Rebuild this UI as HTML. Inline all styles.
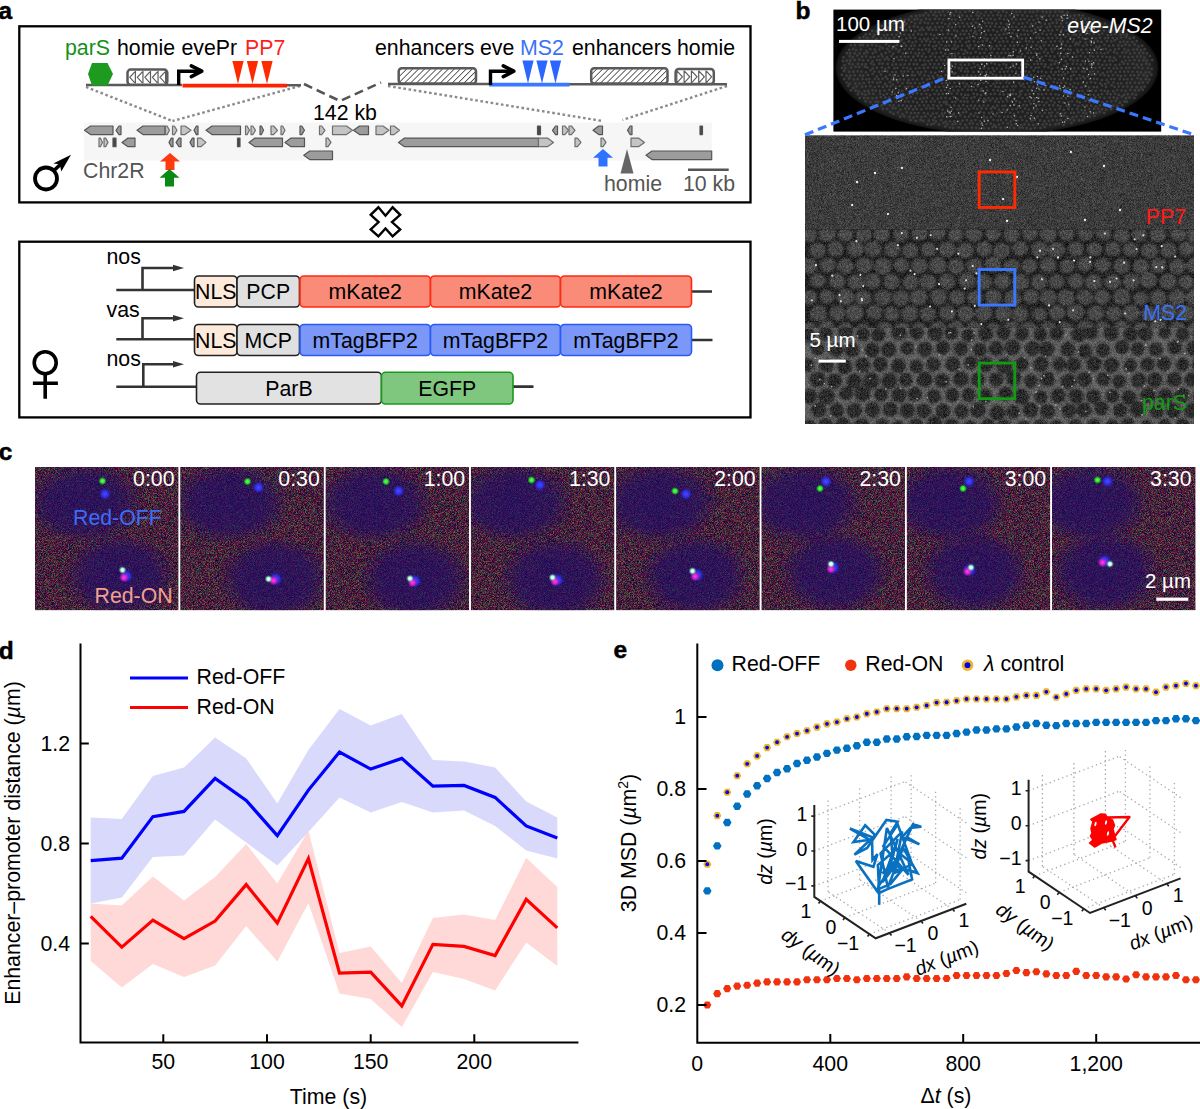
<!DOCTYPE html>
<html><head><meta charset="utf-8"><title>Figure</title>
<style>html,body{margin:0;padding:0;background:#fff;} svg{display:block;font-family:"Liberation Sans",sans-serif;}</style>
</head><body>
<svg width="1200" height="1109" viewBox="0 0 1200 1109">
<rect width="1200" height="1109" fill="#fff"/>
<text x="-1.6" y="19" font-size="24.5" font-weight="bold" fill="#000" stroke="#000" stroke-width="0.5">a</text>
<rect x="19.3" y="26.3" width="731.2" height="176.1" fill="none" stroke="#000" stroke-width="2.3"/>
<rect x="19.3" y="241.7" width="731.2" height="175.7" fill="none" stroke="#000" stroke-width="2.3"/>
<text x="65" y="54.8" font-size="21.3" fill="#15901a" text-anchor="start" >parS</text>
<text x="117" y="54.8" font-size="21.3" fill="#000" text-anchor="start" >homie</text>
<text x="181.5" y="54.8" font-size="21.3" fill="#000" text-anchor="start" >evePr</text>
<text x="245" y="54.8" font-size="21.3" fill="#ff1e1e" text-anchor="start" >PP7</text>
<text x="375" y="54.8" font-size="21.3" fill="#000" text-anchor="start" >enhancers</text>
<text x="480" y="54.8" font-size="21.3" fill="#000" text-anchor="start" >eve</text>
<text x="520" y="54.8" font-size="21.3" fill="#3a72f5" text-anchor="start" >MS2</text>
<text x="572" y="54.8" font-size="21.3" fill="#000" text-anchor="start" >enhancers</text>
<text x="677" y="54.8" font-size="21.3" fill="#000" text-anchor="start" >homie</text>
<path d="M86,87 L172.5,121 M300,86 L172.5,121 M388,86 L602.5,121 M727,86 L622.5,120" stroke="#8a8a8a" stroke-width="2.4" stroke-dasharray="2.6 2.6" fill="none"/>
<path d="M86,85 H182 M287,85.2 H301 M388,84 H489 M569,84.3 H727" stroke="#5a5a5a" stroke-width="2.6" fill="none"/>
<path d="M304,84 L340,101 L381,82.5" stroke="#555" stroke-width="2.6" fill="none" stroke-dasharray="9 5"/>
<polygon points="92,63 107.5,63 113,74 107.5,85.5 92,85.5 88,74" fill="#1e9a1e"/>
<rect x="127.5" y="69.6" width="39.8" height="15.2" rx="3.2" fill="#fff" stroke="#5a5a5a" stroke-width="2.5"/>
<path d="M135.39999999999998,71 V83.5 M134.79999999999998,71.8 L129.79999999999998,77.3 L134.79999999999998,82.8 M142.95,71 V83.5 M142.35,71.8 L137.35,77.3 L142.35,82.8 M150.49999999999997,71 V83.5 M149.89999999999998,71.8 L144.89999999999998,77.3 L149.89999999999998,82.8 M158.04999999999998,71 V83.5 M157.45,71.8 L152.45,77.3 L157.45,82.8 M165.59999999999997,71 V83.5 M164.99999999999997,71.8 L159.99999999999997,77.3 L164.99999999999997,82.8 " stroke="#5e5e5e" stroke-width="1.2" fill="none"/>
<rect x="675.6" y="69" width="38.2" height="15" rx="3.2" fill="#fff" stroke="#5a5a5a" stroke-width="2.5"/>
<path d="M676.8,70.5 V83 M677.4,71.3 L682.4,76.8 L677.4,82.3 M684.0999999999999,70.5 V83 M684.6999999999999,71.3 L689.6999999999999,76.8 L684.6999999999999,82.3 M691.4,70.5 V83 M692.0,71.3 L697.0,76.8 L692.0,82.3 M698.6999999999999,70.5 V83 M699.3,71.3 L704.3,76.8 L699.3,82.3 M706.0,70.5 V83 M706.6,71.3 L711.6,76.8 L706.6,82.3 " stroke="#5e5e5e" stroke-width="1.2" fill="none"/>
<defs><pattern id="hatch" patternUnits="userSpaceOnUse" width="4.2" height="4.2" patternTransform="rotate(45)"><rect width="4.2" height="4.2" fill="#fff"/><line x1="0" y1="0" x2="0" y2="4.2" stroke="#333" stroke-width="1.5"/></pattern></defs>
<rect x="398.7" y="68.2" width="77.3" height="15.2" rx="3" fill="url(#hatch)" stroke="#5a5a5a" stroke-width="2.5"/>
<rect x="591.2" y="68.2" width="76.3" height="15.2" rx="3" fill="url(#hatch)" stroke="#5a5a5a" stroke-width="2.5"/>
<path d="M182.5,85.6 H287" stroke="#ff2200" stroke-width="3.6"/>
<path d="M489,84.6 H569.5" stroke="#3a78ff" stroke-width="3.6"/>
<polygon points="232.4,61 243.6,61 238,84" fill="#ff2a00"/>
<polygon points="246.9,61 258.1,61 252.5,84" fill="#ff2a00"/>
<polygon points="261.4,61 272.6,61 267,84" fill="#ff2a00"/>
<polygon points="522.4,60.5 533.6,60.5 528,83.5" fill="#2a66ff"/>
<polygon points="536.4,60.5 547.6,60.5 542,83.5" fill="#2a66ff"/>
<polygon points="549.9,60.5 561.1,60.5 555.5,83.5" fill="#2a66ff"/>
<path d="M178.7,85 V71.2 H200.3" stroke="#000" stroke-width="3.4" fill="none"/>
<path d="M191.3,65.8 L201.8,71.2 L191.3,76.6" stroke="#000" stroke-width="3.6" fill="none" stroke-linecap="round" stroke-linejoin="round"/>
<path d="M490.5,85 V71.2 H512.3" stroke="#000" stroke-width="3.4" fill="none"/>
<path d="M503.29999999999995,65.8 L513.8,71.2 L503.29999999999995,76.6" stroke="#000" stroke-width="3.6" fill="none" stroke-linecap="round" stroke-linejoin="round"/>
<text x="313" y="119.5" font-size="21.3" fill="#000" text-anchor="start" >142 kb</text>
<rect x="84" y="122.5" width="627.7" height="38" fill="#f6f6f6"/>
<polygon points="84.5,130.3 90.5,126.00000000000001 113,126.00000000000001 113,134.60000000000002 90.5,134.60000000000002" fill="#9c9c9c" stroke="#555" stroke-width="1.2" stroke-linejoin="round"/>
<polygon points="116,130.3 119.0,126.00000000000001 121,126.00000000000001 121,134.60000000000002 119.0,134.60000000000002" fill="#9c9c9c" stroke="#555" stroke-width="1.2" stroke-linejoin="round"/>
<polygon points="137,130.3 143,126.00000000000001 165,126.00000000000001 165,134.60000000000002 143,134.60000000000002" fill="#9c9c9c" stroke="#555" stroke-width="1.2" stroke-linejoin="round"/>
<polygon points="165.5,126.00000000000001 167.1,126.00000000000001 169.5,130.3 167.1,134.60000000000002 165.5,134.60000000000002" fill="#c4c4c4" stroke="#6e6e6e" stroke-width="1.2" stroke-linejoin="round"/>
<polygon points="172.5,126.00000000000001 174.3,126.00000000000001 177,130.3 174.3,134.60000000000002 172.5,134.60000000000002" fill="#c4c4c4" stroke="#6e6e6e" stroke-width="1.2" stroke-linejoin="round"/>
<polygon points="181,126.00000000000001 185,126.00000000000001 191,130.3 185,134.60000000000002 181,134.60000000000002" fill="#c4c4c4" stroke="#6e6e6e" stroke-width="1.2" stroke-linejoin="round"/>
<polygon points="194,130.3 196.4,126.00000000000001 198,126.00000000000001 198,134.60000000000002 196.4,134.60000000000002" fill="#9c9c9c" stroke="#555" stroke-width="1.2" stroke-linejoin="round"/>
<polygon points="206,130.3 212,126.00000000000001 240.5,126.00000000000001 240.5,134.60000000000002 212,134.60000000000002" fill="#9c9c9c" stroke="#555" stroke-width="1.2" stroke-linejoin="round"/>
<polygon points="245.5,126.00000000000001 247.1,126.00000000000001 249.5,130.3 247.1,134.60000000000002 245.5,134.60000000000002" fill="#c4c4c4" stroke="#6e6e6e" stroke-width="1.2" stroke-linejoin="round"/>
<polygon points="251,126.00000000000001 252.8,126.00000000000001 255.5,130.3 252.8,134.60000000000002 251,134.60000000000002" fill="#c4c4c4" stroke="#6e6e6e" stroke-width="1.2" stroke-linejoin="round"/>
<polygon points="260,126.00000000000001 261.4,126.00000000000001 263.5,130.3 261.4,134.60000000000002 260,134.60000000000002" fill="#9c9c9c" stroke="#555" stroke-width="1.2" stroke-linejoin="round"/>
<polygon points="271,126.00000000000001 273.6,126.00000000000001 277.5,130.3 273.6,134.60000000000002 271,134.60000000000002" fill="#c4c4c4" stroke="#6e6e6e" stroke-width="1.2" stroke-linejoin="round"/>
<polygon points="281,126.00000000000001 282.6,126.00000000000001 285,130.3 282.6,134.60000000000002 281,134.60000000000002" fill="#c4c4c4" stroke="#6e6e6e" stroke-width="1.2" stroke-linejoin="round"/>
<polygon points="300,126.00000000000001 301.8,126.00000000000001 304.5,130.3 301.8,134.60000000000002 300,134.60000000000002" fill="#9c9c9c" stroke="#555" stroke-width="1.2" stroke-linejoin="round"/>
<polygon points="319.5,126.00000000000001 321.7,126.00000000000001 325,130.3 321.7,134.60000000000002 319.5,134.60000000000002" fill="#c4c4c4" stroke="#6e6e6e" stroke-width="1.2" stroke-linejoin="round"/>
<polygon points="332.5,126.00000000000001 346.5,126.00000000000001 352.5,130.3 346.5,134.60000000000002 332.5,134.60000000000002" fill="#c4c4c4" stroke="#6e6e6e" stroke-width="1.2" stroke-linejoin="round"/>
<polygon points="353.5,130.3 359.5,126.00000000000001 368.5,126.00000000000001 368.5,134.60000000000002 359.5,134.60000000000002" fill="#9c9c9c" stroke="#555" stroke-width="1.2" stroke-linejoin="round"/>
<polygon points="376,126.00000000000001 383,126.00000000000001 389,130.3 383,134.60000000000002 376,134.60000000000002" fill="#c4c4c4" stroke="#6e6e6e" stroke-width="1.2" stroke-linejoin="round"/>
<polygon points="390.5,126.00000000000001 394.1,126.00000000000001 399.5,130.3 394.1,134.60000000000002 390.5,134.60000000000002" fill="#c4c4c4" stroke="#6e6e6e" stroke-width="1.2" stroke-linejoin="round"/>
<polygon points="537.5,126.00000000000001 540.5,126.00000000000001 540.5,134.60000000000002 537.5,134.60000000000002" fill="#444" stroke="#555" stroke-width="1.2" stroke-linejoin="round"/>
<polygon points="552.5,130.3 555.5,126.00000000000001 557.5,126.00000000000001 557.5,134.60000000000002 555.5,134.60000000000002" fill="#9c9c9c" stroke="#555" stroke-width="1.2" stroke-linejoin="round"/>
<polygon points="562.5,126.00000000000001 564.9,126.00000000000001 568.5,130.3 564.9,134.60000000000002 562.5,134.60000000000002" fill="#c4c4c4" stroke="#6e6e6e" stroke-width="1.2" stroke-linejoin="round"/>
<polygon points="569,126.00000000000001 571.4,126.00000000000001 575,130.3 571.4,134.60000000000002 569,134.60000000000002" fill="#c4c4c4" stroke="#6e6e6e" stroke-width="1.2" stroke-linejoin="round"/>
<polygon points="593,130.3 598.7,126.00000000000001 602.5,126.00000000000001 602.5,134.60000000000002 598.7,134.60000000000002" fill="#9c9c9c" stroke="#555" stroke-width="1.2" stroke-linejoin="round"/>
<polygon points="627.5,130.3 630.2,126.00000000000001 632,126.00000000000001 632,134.60000000000002 630.2,134.60000000000002" fill="#9c9c9c" stroke="#555" stroke-width="1.2" stroke-linejoin="round"/>
<polygon points="700,126.00000000000001 702.5,126.00000000000001 702.5,134.60000000000002 700,134.60000000000002" fill="#444" stroke="#555" stroke-width="1.2" stroke-linejoin="round"/>
<polygon points="99,138.1 100.4,138.1 102.5,142.4 100.4,146.70000000000002 99,146.70000000000002" fill="#c4c4c4" stroke="#6e6e6e" stroke-width="1.2" stroke-linejoin="round"/>
<polygon points="104,138.1 105.6,138.1 108,142.4 105.6,146.70000000000002 104,146.70000000000002" fill="#c4c4c4" stroke="#6e6e6e" stroke-width="1.2" stroke-linejoin="round"/>
<polygon points="113,138.1 116,138.1 116,146.70000000000002 113,146.70000000000002" fill="#444" stroke="#555" stroke-width="1.2" stroke-linejoin="round"/>
<polygon points="122,142.4 128,138.1 135,138.1 135,146.70000000000002 128,146.70000000000002" fill="#9c9c9c" stroke="#555" stroke-width="1.2" stroke-linejoin="round"/>
<polygon points="169,142.4 171.4,138.1 173,138.1 173,146.70000000000002 171.4,146.70000000000002" fill="#9c9c9c" stroke="#555" stroke-width="1.2" stroke-linejoin="round"/>
<polygon points="176,142.4 179.0,138.1 181,138.1 181,146.70000000000002 179.0,146.70000000000002" fill="#9c9c9c" stroke="#555" stroke-width="1.2" stroke-linejoin="round"/>
<polygon points="190,142.4 192.4,138.1 194,138.1 194,146.70000000000002 192.4,146.70000000000002" fill="#9c9c9c" stroke="#555" stroke-width="1.2" stroke-linejoin="round"/>
<polygon points="197.5,138.1 200.9,138.1 206,142.4 200.9,146.70000000000002 197.5,146.70000000000002" fill="#c4c4c4" stroke="#6e6e6e" stroke-width="1.2" stroke-linejoin="round"/>
<polygon points="237.5,138.1 240,138.1 240,146.70000000000002 237.5,146.70000000000002" fill="#444" stroke="#555" stroke-width="1.2" stroke-linejoin="round"/>
<polygon points="249,142.4 255,138.1 282.5,138.1 282.5,146.70000000000002 255,146.70000000000002" fill="#9c9c9c" stroke="#555" stroke-width="1.2" stroke-linejoin="round"/>
<polygon points="285,142.4 291,138.1 304.5,138.1 304.5,146.70000000000002 291,146.70000000000002" fill="#9c9c9c" stroke="#555" stroke-width="1.2" stroke-linejoin="round"/>
<polygon points="326,138.1 328.0,138.1 331,142.4 328.0,146.70000000000002 326,146.70000000000002" fill="#c4c4c4" stroke="#6e6e6e" stroke-width="1.2" stroke-linejoin="round"/>
<polygon points="398.5,142.4 404.5,138.1 538.5,138.1 538.5,146.70000000000002 404.5,146.70000000000002" fill="#9c9c9c" stroke="#555" stroke-width="1.2" stroke-linejoin="round"/>
<polygon points="538.5,138.1 547.5,138.1 553.5,142.4 547.5,146.70000000000002 538.5,146.70000000000002" fill="#c4c4c4" stroke="#6e6e6e" stroke-width="1.2" stroke-linejoin="round"/>
<polygon points="575,138.1 577.4,138.1 581,142.4 577.4,146.70000000000002 575,146.70000000000002" fill="#c4c4c4" stroke="#6e6e6e" stroke-width="1.2" stroke-linejoin="round"/>
<polygon points="601,138.1 603.0,138.1 606,142.4 603.0,146.70000000000002 601,146.70000000000002" fill="#c4c4c4" stroke="#6e6e6e" stroke-width="1.2" stroke-linejoin="round"/>
<polygon points="631,138.1 638.5,138.1 644.5,142.4 638.5,146.70000000000002 631,146.70000000000002" fill="#c4c4c4" stroke="#6e6e6e" stroke-width="1.2" stroke-linejoin="round"/>
<polygon points="303.75,155.3 309.75,151.0 332.5,151.0 332.5,159.60000000000002 309.75,159.60000000000002" fill="#9c9c9c" stroke="#555" stroke-width="1.2" stroke-linejoin="round"/>
<polygon points="646,155.3 652,151.0 711.7,151.0 711.7,159.60000000000002 652,159.60000000000002" fill="#9c9c9c" stroke="#555" stroke-width="1.2" stroke-linejoin="round"/>
<circle cx="46" cy="178.5" r="11" fill="none" stroke="#000" stroke-width="3.8"/>
<path d="M54,170.5 L64,161" stroke="#000" stroke-width="3.6"/>
<polygon points="71,154.7 53.3,163.6 59.8,164.3 61.3,171.5" fill="#000"/>
<text x="83" y="178" font-size="21.3" fill="#555" text-anchor="start" >Chr2R</text>
<polygon points="170,153 180,161.5 174.5,161.5 174.5,170 165.5,170 165.5,161.5 160,161.5" fill="#ff3a10"/>
<polygon points="169.5,169 179.5,177.75 174.0,177.75 174.0,186.5 165.0,186.5 165.0,177.75 159.5,177.75" fill="#0a8a14"/>
<polygon points="603,149 613,157.75 607.5,157.75 607.5,166.5 598.5,166.5 598.5,157.75 593,157.75" fill="#2f72ff"/>
<polygon points="627,149 633.5,173.5 620.5,173.5" fill="#666"/>
<text x="604" y="191" font-size="21.3" fill="#555" text-anchor="start" >homie</text>
<text x="683" y="191" font-size="21.3" fill="#555" text-anchor="start" >10 kb</text>
<path d="M688,169.7 H728.7" stroke="#555" stroke-width="2.6"/>
<polygon points="378.4,207.3 385.5,215.7 392.6,207.3 400.2,214.8 392,222.1 400.2,229.4 392.6,236.4 385.5,228.5 378.4,236.4 370.7,229.4 378.6,222.1 370.7,214.8" fill="#fff" stroke="#000" stroke-width="2.4" stroke-linejoin="miter"/>
<circle cx="45.2" cy="362.7" r="11" fill="none" stroke="#000" stroke-width="3.6"/>
<path d="M45.2,374 V398.7 M32.9,383.2 H57.9" stroke="#000" stroke-width="3.6"/>
<path d="M116.3,290 H195 M142.5,290 V268 H176" stroke="#333" stroke-width="2.6" fill="none"/>
<polygon points="173,264.8 184,268 173,271.2" fill="#333"/>
<text x="106.5" y="264.2" font-size="21.3" fill="#000" text-anchor="start" >nos</text>
<path d="M116.3,339.3 H195 M142.5,339.3 V318.3 H176" stroke="#333" stroke-width="2.6" fill="none"/>
<polygon points="173,315.1 184,318.3 173,321.5" fill="#333"/>
<text x="106.5" y="317.3" font-size="21.3" fill="#000" text-anchor="start" >vas</text>
<path d="M116.3,386.7 H197 M143.3,386.7 V364.3 H176" stroke="#333" stroke-width="2.6" fill="none"/>
<polygon points="173,361.1 184,364.3 173,367.5" fill="#333"/>
<text x="106.5" y="366" font-size="21.3" fill="#000" text-anchor="start" >nos</text>
<path d="M691,291.5 H712 M691,340 H712.5 M513,386.6 H533.5" stroke="#333" stroke-width="2.6"/>
<rect x="194.5" y="276" width="42.5" height="31" rx="4" fill="#fdeadb" stroke="#222" stroke-width="1.6"/><text x="215.75" y="299.1" font-size="21.3" fill="#000" text-anchor="middle" >NLS</text>
<rect x="237" y="276" width="62.5" height="31" rx="4" fill="#e0e0e0" stroke="#222" stroke-width="1.6"/><text x="268.25" y="299.1" font-size="21.3" fill="#000" text-anchor="middle" >PCP</text>
<rect x="300" y="276" width="130.5" height="31" rx="4" fill="#fa8b79" stroke="#ff2a10" stroke-width="1.6"/><text x="365.25" y="299.1" font-size="21.3" fill="#000" text-anchor="middle" >mKate2</text>
<rect x="430.5" y="276" width="130.0" height="31" rx="4" fill="#fa8b79" stroke="#ff2a10" stroke-width="1.6"/><text x="495.5" y="299.1" font-size="21.3" fill="#000" text-anchor="middle" >mKate2</text>
<rect x="560.5" y="276" width="131.0" height="31" rx="4" fill="#fa8b79" stroke="#ff2a10" stroke-width="1.6"/><text x="626.0" y="299.1" font-size="21.3" fill="#000" text-anchor="middle" >mKate2</text>
<rect x="194.5" y="324.5" width="42.5" height="31.0" rx="4" fill="#fdeadb" stroke="#222" stroke-width="1.6"/><text x="215.75" y="347.6" font-size="21.3" fill="#000" text-anchor="middle" >NLS</text>
<rect x="237" y="324.5" width="62.5" height="31.0" rx="4" fill="#e0e0e0" stroke="#222" stroke-width="1.6"/><text x="268.25" y="347.6" font-size="21.3" fill="#000" text-anchor="middle" >MCP</text>
<rect x="300" y="324.5" width="130.5" height="31.0" rx="4" fill="#7b98f8" stroke="#2a5af5" stroke-width="1.6"/><text x="365.25" y="347.6" font-size="21.3" fill="#000" text-anchor="middle" >mTagBFP2</text>
<rect x="430.5" y="324.5" width="130.0" height="31.0" rx="4" fill="#7b98f8" stroke="#2a5af5" stroke-width="1.6"/><text x="495.5" y="347.6" font-size="21.3" fill="#000" text-anchor="middle" >mTagBFP2</text>
<rect x="560.5" y="324.5" width="131.0" height="31.0" rx="4" fill="#7b98f8" stroke="#2a5af5" stroke-width="1.6"/><text x="626.0" y="347.6" font-size="21.3" fill="#000" text-anchor="middle" >mTagBFP2</text>
<rect x="196.5" y="372.3" width="185.0" height="31.69999999999999" rx="4" fill="#e2e2e2" stroke="#222" stroke-width="1.6"/><text x="289.0" y="395.75" font-size="21.3" fill="#000" text-anchor="middle" >ParB</text>
<rect x="381.5" y="372.3" width="131.5" height="31.69999999999999" rx="4" fill="#7fc67f" stroke="#1a9a1a" stroke-width="1.6"/><text x="447.25" y="395.75" font-size="21.3" fill="#000" text-anchor="middle" >EGFP</text>
<text x="795.6" y="19.2" font-size="24.5" font-weight="bold" fill="#000" stroke="#000" stroke-width="0.5">b</text>
<defs><clipPath id="emb"><rect x="833.4" y="9.6" width="327.80000000000007" height="122.0"/></clipPath><radialGradient id="embg" cx="0.5" cy="0.5" r="0.5"><stop offset="0" stop-color="#1d1d1d"/><stop offset="0.8" stop-color="#212121"/><stop offset="0.93" stop-color="#262626"/><stop offset="0.985" stop-color="#181818"/><stop offset="1" stop-color="#050505"/></radialGradient></defs>
<rect x="833.4" y="9.6" width="327.80000000000007" height="122.0" fill="#000"/>
<g clip-path="url(#emb)">
<ellipse cx="997" cy="68" rx="162" ry="67" fill="url(#embg)"/>
<path d="M925.7,12.8h0M930.9,11.5h0M935.3,12.1h0M939.2,12.1h0M943.0,11.7h0M947.9,11.9h0M951.4,12.9h0M956.1,11.6h0M960.1,12.3h0M965.3,12.0h0M969.5,11.2h0M973.2,11.7h0M977.7,12.2h0M981.0,13.5h0M985.8,12.1h0M991.0,12.3h0M995.0,10.5h0M998.6,12.3h0M1003.0,11.4h0M1006.6,12.5h0M1012.3,11.5h0M1016.3,11.9h0M1020.1,11.8h0M1025.1,12.2h0M1029.9,11.9h0M1033.3,12.1h0M1037.5,11.3h0M1042.7,11.7h0M1046.5,12.2h0M1050.2,12.2h0M1055.3,11.8h0M1059.6,11.5h0M1062.6,11.8h0M1067.5,12.3h0M911.5,16.3h0M916.0,15.8h0M919.9,15.7h0M923.3,15.4h0M928.5,15.4h0M933.5,14.9h0M936.6,16.2h0M940.8,15.1h0M944.7,15.3h0M950.5,15.8h0M954.3,15.4h0M958.7,15.7h0M962.2,15.4h0M967.0,16.2h0M971.2,15.9h0M976.5,15.2h0M979.2,16.1h0M984.3,15.6h0M988.5,15.5h0M993.0,15.5h0M997.4,15.1h0M1000.9,15.7h0M1005.4,16.0h0M1009.9,15.4h0M1014.3,15.4h0M1017.7,15.1h0M1022.4,15.4h0M1027.2,16.1h0M1031.7,16.5h0M1036.4,15.6h0M1040.8,16.2h0M1044.1,15.8h0M1049.2,15.8h0M1053.4,15.8h0M1057.6,15.5h0M1061.7,15.5h0M1066.2,14.8h0M1070.3,16.3h0M1074.7,15.6h0M1079.0,15.2h0M1082.6,15.5h0M896.0,20.1h0M900.7,19.0h0M904.7,20.1h0M908.8,19.6h0M914.5,19.4h0M917.4,18.9h0M921.4,20.1h0M926.0,18.8h0M929.9,19.4h0M935.0,19.0h0M939.3,19.1h0M943.4,19.6h0M947.9,19.2h0M951.8,19.6h0M955.5,19.5h0M960.7,19.9h0M964.7,19.3h0M969.1,19.0h0M973.2,19.6h0M977.8,18.8h0M981.8,18.3h0M986.7,19.1h0M990.7,18.8h0M994.8,19.6h0M999.6,18.7h0M1003.9,19.3h0M1007.4,19.6h0M1011.9,19.2h0M1016.0,19.5h0M1020.7,19.3h0M1024.5,19.1h0M1029.4,20.0h0M1033.5,20.1h0M1037.8,18.8h0M1042.5,18.9h0M1046.6,19.9h0M1050.6,19.3h0M1056.3,19.5h0M1059.5,19.7h0M1063.6,19.3h0M1068.1,18.2h0M1072.9,18.8h0M1076.0,19.6h0M1080.9,18.7h0M1085.2,18.8h0M1089.1,18.6h0M1093.3,19.6h0M889.6,23.1h0M893.9,23.6h0M897.8,22.7h0M903.0,23.0h0M906.4,23.7h0M911.4,21.8h0M915.1,23.5h0M920.0,22.9h0M924.7,22.7h0M928.1,23.2h0M932.5,23.5h0M937.3,23.1h0M941.8,22.8h0M945.3,24.0h0M949.8,23.7h0M953.8,23.0h0M958.3,23.2h0M962.4,23.1h0M967.2,23.7h0M971.3,23.4h0M976.0,22.6h0M979.0,23.9h0M984.8,23.2h0M988.6,22.7h0M992.0,23.3h0M996.3,23.6h0M1001.0,23.3h0M1006.6,24.1h0M1009.8,23.7h0M1013.7,22.8h0M1018.7,23.8h0M1022.5,23.4h0M1027.2,22.5h0M1031.3,23.9h0M1035.7,23.4h0M1040.4,22.8h0M1044.9,23.9h0M1049.4,23.8h0M1052.7,22.8h0M1056.8,22.7h0M1061.1,23.6h0M1066.5,22.8h0M1070.5,22.5h0M1074.2,22.6h0M1077.9,23.1h0M1083.0,22.9h0M1087.0,22.6h0M1091.5,22.8h0M1096.0,22.5h0M1100.3,23.4h0M1105.1,23.6h0M881.8,25.9h0M888.1,27.6h0M891.4,26.8h0M896.3,26.4h0M901.1,26.3h0M904.2,25.5h0M909.6,26.9h0M914.0,26.4h0M917.6,26.9h0M921.9,27.9h0M927.2,27.5h0M930.2,27.3h0M935.3,27.1h0M939.2,27.1h0M942.8,27.0h0M948.4,26.4h0M951.9,27.3h0M955.5,26.8h0M959.6,26.6h0M964.1,26.4h0M968.8,26.7h0M973.3,25.6h0M978.4,26.7h0M981.4,26.5h0M986.4,26.3h0M990.3,26.6h0M995.1,26.5h0M999.4,27.0h0M1003.4,27.5h0M1007.8,26.3h0M1012.2,26.9h0M1016.3,27.0h0M1021.8,27.0h0M1025.2,26.7h0M1029.9,26.8h0M1033.1,26.2h0M1038.1,27.2h0M1041.4,26.5h0M1046.8,27.4h0M1050.1,26.6h0M1055.5,26.6h0M1059.1,26.6h0M1063.0,26.9h0M1068.1,26.1h0M1072.3,27.4h0M1076.7,27.3h0M1080.6,27.5h0M1084.8,27.8h0M1089.2,26.5h0M1093.3,26.6h0M1097.8,26.5h0M1102.2,27.2h0M1107.1,26.7h0M1111.6,26.3h0M872.2,30.8h0M876.8,31.4h0M880.2,30.2h0M885.2,30.6h0M889.3,30.2h0M894.3,30.1h0M897.8,31.3h0M903.3,31.0h0M906.3,30.2h0M910.5,30.0h0M915.1,31.2h0M919.7,30.2h0M923.5,30.0h0M928.8,29.6h0M932.6,29.9h0M936.3,29.8h0M941.6,30.5h0M946.8,30.1h0M949.1,30.9h0M954.3,30.4h0M957.3,31.3h0M962.9,30.8h0M966.6,30.9h0M970.9,30.6h0M975.4,31.2h0M979.5,30.4h0M984.6,30.7h0M988.4,30.4h0M993.2,30.2h0M997.2,31.6h0M1001.5,30.2h0M1005.0,30.6h0M1009.3,29.8h0M1013.8,30.0h0M1018.9,29.8h0M1023.6,30.2h0M1027.1,30.9h0M1031.5,30.9h0M1035.2,29.4h0M1039.9,29.7h0M1044.0,31.0h0M1048.5,30.3h0M1052.3,30.4h0M1057.1,29.8h0M1061.6,30.0h0M1065.9,30.3h0M1070.6,31.0h0M1074.4,30.5h0M1078.9,31.2h0M1083.5,30.6h0M1087.4,31.3h0M1090.8,30.8h0M1095.4,31.2h0M1099.9,30.5h0M1103.9,30.6h0M1109.2,31.4h0M1112.5,30.4h0M1119.3,31.1h0M1121.7,30.8h0M865.8,34.4h0M869.8,34.0h0M874.5,34.8h0M878.5,34.8h0M884.0,35.4h0M887.4,34.9h0M892.0,34.7h0M896.4,34.6h0M900.7,34.5h0M904.4,34.5h0M909.1,35.0h0M913.4,34.7h0M918.2,33.9h0M921.6,34.6h0M926.1,33.9h0M930.9,34.3h0M934.2,35.3h0M938.3,34.4h0M942.9,34.4h0M947.9,33.9h0M951.8,34.3h0M955.7,34.9h0M960.6,34.2h0M964.4,34.2h0M969.1,34.1h0M974.0,33.1h0M976.6,34.2h0M981.0,34.3h0M985.9,34.6h0M990.8,35.0h0M995.3,35.0h0M999.4,34.9h0M1003.7,34.1h0M1007.1,33.7h0M1012.3,33.2h0M1016.5,34.0h0M1021.0,34.5h0M1024.6,34.4h0M1028.1,34.5h0M1033.8,33.4h0M1038.3,34.3h0M1042.3,33.6h0M1046.8,34.6h0M1050.8,33.9h0M1055.5,35.0h0M1059.6,34.9h0M1063.4,34.4h0M1068.2,34.4h0M1073.7,34.6h0M1076.3,34.8h0M1080.3,34.6h0M1085.6,34.1h0M1089.3,33.9h0M1093.9,34.0h0M1099.0,34.7h0M1102.3,33.7h0M1107.7,35.0h0M1111.2,34.5h0M1115.4,34.1h0M1120.5,34.5h0M1123.2,34.1h0M1126.9,34.7h0M859.7,37.9h0M863.5,36.8h0M867.3,38.0h0M873.0,37.1h0M876.3,39.1h0M881.3,38.3h0M885.8,38.0h0M889.4,38.5h0M894.3,37.6h0M898.9,37.2h0M902.1,39.6h0M906.5,38.4h0M910.5,37.9h0M915.0,37.9h0M920.0,39.0h0M924.4,38.9h0M928.0,38.8h0M932.8,38.8h0M936.6,38.0h0M941.8,38.4h0M945.5,37.8h0M949.7,38.3h0M954.4,37.8h0M958.2,38.3h0M962.1,38.6h0M966.9,38.0h0M970.0,37.3h0M975.0,37.8h0M979.3,38.3h0M984.2,37.9h0M987.4,38.8h0M992.6,38.4h0M996.7,38.1h0M1001.6,38.2h0M1006.1,38.0h0M1010.9,37.1h0M1013.9,38.6h0M1018.4,37.8h0M1021.9,38.7h0M1026.1,38.3h0M1031.5,38.5h0M1036.4,37.7h0M1039.6,37.9h0M1043.4,38.5h0M1048.4,38.1h0M1052.3,38.1h0M1056.9,38.0h0M1060.9,38.6h0M1065.5,36.8h0M1070.4,37.9h0M1073.9,39.3h0M1078.7,37.4h0M1082.7,38.2h0M1087.2,38.7h0M1092.1,37.7h0M1095.9,38.4h0M1100.0,37.8h0M1104.9,38.3h0M1108.1,37.8h0M1112.9,38.0h0M1117.0,38.7h0M1121.2,37.5h0M1126.1,36.9h0M1129.8,38.4h0M1133.9,37.6h0M856.8,41.3h0M861.8,42.0h0M866.5,41.6h0M869.4,42.0h0M874.6,42.1h0M879.4,41.5h0M883.4,41.3h0M887.4,42.1h0M891.6,41.9h0M895.2,41.5h0M900.3,41.2h0M904.1,43.0h0M909.0,41.4h0M912.6,42.5h0M916.0,41.6h0M922.0,41.5h0M926.3,41.2h0M930.3,41.8h0M934.6,41.8h0M938.9,42.3h0M943.1,41.5h0M947.3,41.6h0M951.0,40.8h0M955.4,41.9h0M960.1,41.5h0M966.1,42.3h0M968.9,41.4h0M974.0,41.4h0M978.2,42.0h0M982.6,41.4h0M986.6,40.8h0M990.4,42.3h0M995.1,40.8h0M999.4,42.0h0M1003.3,41.4h0M1007.5,41.5h0M1012.5,42.0h0M1016.8,42.1h0M1019.9,41.8h0M1026.0,41.2h0M1029.3,41.4h0M1033.0,41.8h0M1038.2,42.1h0M1042.3,42.2h0M1045.6,42.2h0M1050.9,41.7h0M1055.0,41.3h0M1059.9,41.4h0M1062.8,41.7h0M1067.6,41.7h0M1072.9,41.7h0M1076.5,42.9h0M1080.1,41.9h0M1085.7,42.5h0M1090.5,41.4h0M1094.0,41.7h0M1097.8,41.4h0M1101.5,41.9h0M1107.0,41.2h0M1111.3,41.5h0M1114.7,40.4h0M1120.0,42.1h0M1123.6,41.6h0M1127.4,42.0h0M1132.4,42.0h0M1136.8,41.0h0M851.0,45.3h0M854.8,45.2h0M860.3,45.2h0M862.9,45.2h0M867.7,45.4h0M872.1,44.9h0M876.4,45.7h0M880.1,46.5h0M886.0,44.5h0M889.2,46.0h0M894.4,46.4h0M897.1,44.9h0M902.0,45.7h0M906.1,45.7h0M911.1,45.8h0M914.6,45.6h0M919.6,45.3h0M924.5,45.3h0M928.9,45.2h0M933.3,46.3h0M936.3,45.7h0M941.2,45.0h0M945.7,45.8h0M949.2,45.5h0M954.4,45.4h0M957.9,46.3h0M962.1,45.7h0M967.4,45.9h0M970.2,45.3h0M975.4,45.4h0M980.1,45.8h0M984.1,45.7h0M988.9,46.2h0M991.7,46.6h0M996.7,45.9h0M1000.5,45.3h0M1004.9,46.1h0M1010.3,45.5h0M1014.1,45.7h0M1018.0,45.2h0M1022.4,46.0h0M1027.1,44.9h0M1031.6,45.8h0M1036.4,45.3h0M1040.2,46.6h0M1044.1,45.4h0M1048.9,45.3h0M1052.9,45.3h0M1056.8,46.0h0M1061.3,45.0h0M1065.6,45.5h0M1070.2,46.0h0M1075.3,44.9h0M1078.6,44.6h0M1083.1,45.8h0M1087.0,45.1h0M1091.1,44.8h0M1096.2,46.5h0M1099.6,46.4h0M1104.4,44.8h0M1109.1,45.9h0M1113.3,45.4h0M1118.2,45.4h0M1122.0,45.8h0M1125.5,44.6h0M1129.4,45.3h0M1134.7,44.6h0M1138.5,46.3h0M1142.2,45.7h0M849.2,50.0h0M852.9,48.8h0M856.2,50.0h0M860.8,49.5h0M866.3,50.9h0M870.2,49.2h0M874.7,49.5h0M879.4,49.6h0M882.7,48.2h0M887.5,48.9h0M892.4,48.6h0M896.1,48.9h0M899.8,50.2h0M904.6,49.2h0M909.2,48.9h0M913.0,49.0h0M918.5,49.5h0M922.1,49.9h0M926.0,49.2h0M929.5,49.5h0M934.8,49.1h0M939.6,48.4h0M943.5,48.6h0M947.0,49.2h0M952.5,48.7h0M955.6,48.7h0M961.5,49.6h0M965.0,50.4h0M969.2,48.2h0M973.1,48.7h0M978.7,48.6h0M982.1,49.0h0M986.0,49.3h0M990.5,48.9h0M994.2,49.0h0M998.6,48.8h0M1003.5,49.2h0M1008.0,49.2h0M1013.0,48.9h0M1015.8,49.8h0M1020.3,49.4h0M1025.5,49.2h0M1029.1,49.8h0M1033.7,49.0h0M1037.2,49.1h0M1041.3,48.8h0M1045.9,49.4h0M1051.1,48.9h0M1054.8,48.7h0M1058.6,49.1h0M1063.9,49.5h0M1068.2,49.1h0M1070.8,49.8h0M1077.2,49.8h0M1081.3,49.9h0M1086.5,49.5h0M1090.3,49.7h0M1094.1,49.2h0M1097.9,48.7h0M1102.7,49.1h0M1106.0,48.9h0M1110.3,50.1h0M1115.1,49.3h0M1118.9,48.8h0M1124.4,49.2h0M1128.3,50.2h0M1133.5,49.7h0M1137.0,49.4h0M1140.9,50.3h0M1144.7,49.2h0M846.8,53.2h0M850.0,53.4h0M854.7,53.4h0M859.7,53.4h0M864.3,53.4h0M867.5,52.5h0M872.8,53.3h0M875.8,52.0h0M881.4,54.2h0M885.6,52.9h0M889.6,51.6h0M893.3,53.6h0M898.5,51.9h0M903.0,53.3h0M907.2,52.9h0M911.0,52.5h0M915.5,53.5h0M919.1,53.2h0M923.6,53.6h0M928.7,51.8h0M932.7,53.6h0M936.5,52.9h0M941.0,52.4h0M945.3,53.8h0M949.9,53.8h0M954.5,53.7h0M958.4,53.4h0M963.7,53.8h0M967.1,52.7h0M970.7,53.2h0M975.7,52.1h0M979.9,53.2h0M984.3,52.8h0M989.6,53.5h0M992.0,52.7h0M997.4,53.3h0M1001.4,53.0h0M1005.5,52.8h0M1009.4,53.3h0M1012.8,52.6h0M1019.1,52.6h0M1022.2,54.0h0M1027.6,52.9h0M1031.1,52.9h0M1035.5,52.9h0M1039.6,53.3h0M1044.0,52.1h0M1047.9,53.0h0M1052.3,51.7h0M1058.0,53.3h0M1061.2,52.7h0M1066.0,53.7h0M1069.7,53.2h0M1074.0,53.2h0M1078.1,52.1h0M1083.0,53.0h0M1087.6,52.7h0M1092.3,53.0h0M1096.7,52.8h0M1100.9,53.0h0M1104.5,53.5h0M1107.8,52.4h0M1114.0,52.2h0M1117.1,53.3h0M1122.4,52.7h0M1126.0,52.4h0M1130.1,53.5h0M1134.7,53.0h0M1139.1,53.1h0M1143.3,52.8h0M1147.0,53.4h0M843.5,57.4h0M849.7,56.3h0M852.9,57.4h0M857.3,55.5h0M862.1,56.7h0M866.2,56.3h0M870.6,57.3h0M874.1,57.0h0M878.4,56.5h0M882.6,56.6h0M887.0,57.4h0M891.5,56.2h0M896.7,57.1h0M900.8,56.8h0M904.9,56.7h0M908.4,56.8h0M913.2,56.9h0M917.9,55.9h0M921.9,56.4h0M925.9,57.0h0M930.4,56.4h0M935.1,56.8h0M939.4,57.4h0M943.1,56.2h0M947.6,57.2h0M952.0,56.2h0M955.3,56.3h0M960.0,57.1h0M964.8,57.3h0M969.0,57.7h0M973.4,57.1h0M977.5,57.0h0M982.5,57.2h0M986.9,56.5h0M990.8,57.7h0M995.0,56.7h0M999.1,56.5h0M1003.6,57.5h0M1008.0,56.8h0M1011.7,56.2h0M1017.6,56.6h0M1020.7,56.6h0M1025.1,56.6h0M1029.3,57.5h0M1033.2,57.1h0M1037.8,57.2h0M1041.8,57.0h0M1046.0,55.9h0M1050.1,56.3h0M1054.5,56.6h0M1059.9,56.2h0M1063.9,56.9h0M1067.6,56.3h0M1072.5,57.0h0M1076.4,56.7h0M1080.8,56.1h0M1085.2,56.9h0M1090.3,56.1h0M1093.3,56.8h0M1097.8,56.6h0M1102.4,56.6h0M1106.6,57.0h0M1110.1,57.1h0M1114.1,57.6h0M1120.0,56.5h0M1124.4,56.7h0M1128.4,57.2h0M1132.6,56.8h0M1137.1,56.7h0M1140.9,56.3h0M1144.4,57.6h0M1150.0,56.1h0M843.0,61.1h0M846.7,60.7h0M850.2,60.6h0M854.7,60.0h0M859.3,59.7h0M863.3,60.3h0M868.2,60.4h0M872.5,61.3h0M877.0,60.0h0M880.0,60.1h0M884.8,59.5h0M888.6,59.7h0M893.5,61.2h0M899.0,60.0h0M902.2,59.8h0M905.9,60.5h0M911.0,60.2h0M915.6,60.3h0M920.1,60.2h0M924.3,60.4h0M928.2,60.8h0M931.8,60.1h0M936.7,60.3h0M941.2,60.1h0M944.7,60.4h0M949.8,60.1h0M954.6,60.8h0M958.7,60.9h0M962.1,61.5h0M966.5,60.7h0M971.5,60.7h0M975.6,60.1h0M979.6,60.5h0M984.7,60.2h0M988.7,60.7h0M992.8,60.3h0M996.9,59.7h0M1001.4,60.7h0M1005.4,60.8h0M1010.1,60.2h0M1014.7,60.3h0M1019.7,60.0h0M1022.4,60.2h0M1027.3,61.1h0M1031.5,60.4h0M1036.7,61.1h0M1039.9,60.5h0M1043.6,60.6h0M1049.5,60.0h0M1052.2,60.6h0M1056.0,61.2h0M1060.8,60.2h0M1065.7,61.1h0M1070.3,59.6h0M1073.6,60.6h0M1077.7,60.4h0M1082.6,60.9h0M1087.9,59.3h0M1091.8,60.8h0M1095.5,60.2h0M1099.6,60.3h0M1104.7,61.2h0M1109.5,60.4h0M1112.7,61.0h0M1116.0,59.8h0M1122.0,61.6h0M1125.6,60.5h0M1129.7,60.5h0M1134.5,60.1h0M1139.1,60.4h0M1143.4,60.4h0M1146.9,60.6h0M1152.2,60.1h0M844.5,65.4h0M849.2,63.7h0M852.6,64.3h0M858.0,63.9h0M862.1,64.4h0M865.8,64.2h0M871.0,63.5h0M873.9,64.7h0M879.3,63.6h0M882.6,63.7h0M887.6,63.9h0M892.4,64.7h0M896.1,64.4h0M900.5,64.7h0M904.6,64.4h0M909.3,64.2h0M913.7,64.2h0M917.1,64.4h0M922.6,65.0h0M925.3,64.4h0M930.1,64.1h0M934.5,64.1h0M938.7,64.1h0M943.4,63.7h0M946.9,63.7h0M951.3,64.6h0M955.6,64.2h0M960.5,64.6h0M964.8,64.8h0M969.0,64.4h0M973.7,63.5h0M977.8,65.0h0M982.0,64.1h0M987.2,64.3h0M991.2,63.1h0M994.9,64.0h0M999.3,64.9h0M1003.4,64.1h0M1006.3,64.7h0M1012.7,64.3h0M1016.1,64.4h0M1021.2,64.6h0M1026.0,64.0h0M1028.6,64.5h0M1034.2,64.0h0M1037.9,63.9h0M1041.5,63.9h0M1045.4,64.4h0M1051.0,64.7h0M1054.6,63.9h0M1058.5,63.5h0M1064.1,65.7h0M1067.4,64.1h0M1072.7,63.9h0M1076.8,64.1h0M1080.7,64.7h0M1085.0,63.6h0M1089.9,64.3h0M1093.5,63.9h0M1098.3,63.9h0M1102.4,64.8h0M1106.6,64.8h0M1110.3,64.6h0M1115.5,65.2h0M1119.6,64.7h0M1123.8,63.7h0M1127.7,63.9h0M1132.8,63.9h0M1136.8,64.7h0M1141.7,64.7h0M1146.1,63.7h0M1149.4,64.4h0M841.9,67.8h0M845.2,68.5h0M851.1,67.6h0M855.7,66.8h0M859.3,67.1h0M865.0,66.7h0M867.4,67.6h0M872.7,68.4h0M876.8,67.8h0M881.9,67.6h0M885.3,68.8h0M888.8,67.6h0M894.3,68.2h0M897.4,68.0h0M903.3,67.8h0M907.1,68.0h0M910.6,68.8h0M915.7,68.6h0M919.5,68.0h0M924.0,68.2h0M928.0,67.7h0M933.1,67.4h0M936.5,67.8h0M940.8,67.4h0M945.0,68.4h0M949.5,67.6h0M954.8,67.3h0M958.8,68.1h0M961.9,67.8h0M966.7,68.6h0M971.6,67.8h0M974.9,67.1h0M979.7,67.3h0M984.0,67.9h0M988.5,68.5h0M992.7,68.2h0M996.9,68.5h0M1001.7,68.8h0M1006.2,67.6h0M1009.1,68.3h0M1014.7,67.6h0M1019.2,68.0h0M1022.7,68.1h0M1026.3,67.1h0M1031.2,67.4h0M1035.6,67.9h0M1038.7,67.5h0M1044.5,66.8h0M1048.4,67.3h0M1051.9,68.5h0M1057.7,67.7h0M1061.2,68.6h0M1066.3,67.9h0M1070.5,68.0h0M1074.2,68.2h0M1078.4,68.2h0M1082.8,67.7h0M1086.9,68.2h0M1092.0,68.1h0M1095.4,68.2h0M1099.7,67.4h0M1104.3,68.3h0M1109.1,68.2h0M1113.7,68.4h0M1117.2,68.3h0M1121.5,68.1h0M1126.2,67.9h0M1129.5,67.9h0M1134.4,67.9h0M1138.6,67.4h0M1142.4,68.3h0M1147.8,68.1h0M1151.7,68.9h0M843.9,70.9h0M849.2,71.8h0M853.5,71.7h0M857.6,71.5h0M861.5,71.6h0M866.0,72.4h0M870.5,70.3h0M874.4,71.7h0M879.1,71.8h0M882.7,71.3h0M887.2,71.4h0M892.3,72.0h0M896.0,72.2h0M901.3,71.6h0M904.5,71.6h0M908.2,71.4h0M912.7,72.0h0M917.7,72.2h0M921.4,72.2h0M925.6,71.6h0M931.0,72.3h0M935.2,72.8h0M939.5,71.6h0M943.1,71.4h0M947.7,71.4h0M951.5,71.3h0M955.3,73.0h0M960.9,70.7h0M965.0,71.5h0M968.0,71.6h0M973.5,72.0h0M978.2,71.3h0M981.9,72.1h0M986.5,71.9h0M990.6,72.4h0M994.2,71.0h0M1000.0,72.0h0M1004.0,71.9h0M1007.6,71.5h0M1012.1,71.5h0M1016.3,71.7h0M1021.1,72.1h0M1025.8,71.4h0M1029.2,72.2h0M1033.7,70.6h0M1038.1,71.8h0M1041.9,71.6h0M1046.1,72.3h0M1051.1,71.9h0M1055.6,72.2h0M1059.0,71.3h0M1063.2,72.1h0M1068.0,72.4h0M1072.6,71.7h0M1076.0,71.7h0M1082.0,71.5h0M1084.8,71.7h0M1090.2,71.8h0M1093.3,71.5h0M1098.0,71.8h0M1102.9,73.0h0M1107.4,72.1h0M1111.0,71.4h0M1115.6,72.4h0M1120.0,71.7h0M1124.2,71.7h0M1128.1,71.7h0M1132.5,71.8h0M1137.3,71.8h0M1141.0,72.3h0M1145.7,72.3h0M1149.3,72.4h0M841.9,74.8h0M846.5,75.8h0M850.5,75.6h0M854.7,75.3h0M860.0,75.4h0M863.2,75.7h0M868.0,75.2h0M872.6,74.0h0M876.8,76.4h0M881.0,74.5h0M885.8,76.7h0M889.8,74.9h0M893.4,75.4h0M898.2,76.0h0M902.7,74.4h0M906.5,75.4h0M911.9,75.2h0M914.6,75.3h0M919.7,74.6h0M924.4,75.4h0M928.6,75.8h0M932.7,76.1h0M937.6,75.3h0M941.0,76.0h0M945.5,75.2h0M949.7,75.1h0M953.7,73.8h0M958.4,76.4h0M962.9,75.8h0M967.0,75.1h0M971.4,75.5h0M975.4,75.6h0M979.5,75.5h0M984.4,76.0h0M988.5,75.9h0M992.8,74.4h0M996.1,75.4h0M1000.8,75.8h0M1005.0,75.3h0M1009.6,75.1h0M1013.9,75.5h0M1018.5,75.2h0M1022.9,75.7h0M1027.0,75.1h0M1031.1,75.2h0M1035.4,75.5h0M1041.3,76.0h0M1044.3,75.8h0M1048.9,76.1h0M1053.6,75.0h0M1058.3,75.1h0M1061.6,75.1h0M1065.0,74.6h0M1071.1,76.2h0M1073.9,75.0h0M1079.4,75.0h0M1083.2,76.5h0M1087.7,76.2h0M1091.7,74.7h0M1095.5,74.6h0M1100.4,74.9h0M1104.6,75.3h0M1108.5,75.7h0M1112.9,75.1h0M1117.9,75.5h0M1121.0,76.1h0M1125.3,75.6h0M1130.6,75.4h0M1134.2,75.3h0M1138.7,74.9h0M1143.6,75.2h0M1147.1,76.2h0M1151.4,74.7h0M844.1,79.2h0M849.1,78.4h0M853.9,79.5h0M857.6,79.2h0M862.5,79.0h0M866.3,79.3h0M869.5,79.2h0M874.8,79.1h0M878.6,79.2h0M882.6,78.7h0M887.4,78.8h0M891.9,79.6h0M896.6,79.7h0M900.1,79.4h0M904.0,79.5h0M908.6,79.9h0M912.8,79.3h0M917.1,79.5h0M922.1,78.7h0M927.0,79.5h0M929.7,78.8h0M933.8,78.2h0M938.9,78.2h0M943.5,78.4h0M947.4,80.1h0M951.7,79.2h0M956.8,79.1h0M960.7,78.8h0M964.6,79.3h0M969.1,78.9h0M973.5,79.5h0M978.0,79.2h0M981.5,79.6h0M986.7,78.7h0M989.4,79.1h0M995.4,79.7h0M998.6,79.9h0M1003.0,79.7h0M1007.5,79.7h0M1012.3,79.1h0M1016.7,78.9h0M1020.5,79.1h0M1024.5,79.7h0M1029.7,79.2h0M1033.1,79.4h0M1038.0,79.5h0M1042.1,79.1h0M1047.1,78.9h0M1050.6,78.3h0M1054.8,79.0h0M1059.2,79.5h0M1063.3,79.4h0M1067.7,79.0h0M1071.3,79.4h0M1076.8,78.7h0M1080.5,78.3h0M1084.9,78.6h0M1089.6,79.1h0M1094.0,78.8h0M1097.2,79.1h0M1102.0,80.1h0M1106.7,79.9h0M1111.2,79.0h0M1114.4,79.1h0M1119.8,79.2h0M1124.0,79.3h0M1127.4,79.3h0M1132.0,79.2h0M1137.4,78.2h0M1140.9,79.3h0M1145.8,79.2h0M1149.2,79.6h0M846.6,82.5h0M849.6,83.7h0M855.3,83.5h0M859.5,83.5h0M863.8,83.0h0M869.0,82.4h0M872.6,82.2h0M877.3,82.9h0M880.3,82.1h0M885.1,83.9h0M889.7,82.2h0M892.8,84.4h0M897.8,82.2h0M902.5,83.3h0M907.5,82.9h0M910.6,83.3h0M914.9,83.1h0M919.7,83.4h0M923.5,82.6h0M928.3,83.2h0M931.8,82.5h0M936.9,82.8h0M942.2,83.3h0M946.0,82.9h0M949.7,83.0h0M954.5,82.8h0M959.1,82.6h0M963.1,83.1h0M966.7,83.8h0M971.7,82.9h0M975.1,83.4h0M979.4,83.2h0M983.6,83.0h0M988.0,82.9h0M993.5,83.8h0M996.8,82.8h0M1000.4,83.1h0M1006.2,82.5h0M1009.4,83.1h0M1013.9,83.1h0M1019.3,83.2h0M1023.1,83.9h0M1027.2,83.3h0M1031.4,82.6h0M1036.5,82.3h0M1040.0,82.4h0M1043.9,82.3h0M1048.5,83.2h0M1053.6,82.0h0M1057.3,82.8h0M1061.2,82.9h0M1065.9,82.9h0M1070.1,84.1h0M1074.5,83.1h0M1078.1,83.5h0M1082.7,82.9h0M1086.9,82.9h0M1091.1,82.3h0M1095.2,82.8h0M1100.2,83.3h0M1105.3,83.9h0M1108.5,82.6h0M1113.5,82.5h0M1118.0,83.5h0M1121.2,83.3h0M1126.7,83.2h0M1130.2,82.9h0M1134.9,82.6h0M1139.1,82.9h0M1142.9,82.5h0M1147.8,82.5h0M848.2,85.9h0M853.4,87.9h0M856.6,86.4h0M862.1,86.6h0M865.8,86.3h0M870.3,86.2h0M874.8,87.0h0M878.9,86.3h0M882.9,86.9h0M886.9,86.2h0M890.5,86.4h0M895.9,87.2h0M899.7,86.0h0M905.1,87.2h0M908.3,86.5h0M912.2,86.7h0M918.1,87.1h0M921.2,86.8h0M925.7,86.9h0M930.1,87.0h0M935.3,86.9h0M939.1,86.9h0M943.7,86.5h0M947.5,86.6h0M952.5,86.8h0M956.4,86.5h0M959.8,86.6h0M965.0,86.6h0M968.8,86.5h0M973.6,86.9h0M977.7,86.2h0M981.6,88.5h0M986.2,87.0h0M990.7,86.0h0M995.5,86.7h0M998.7,87.1h0M1003.2,86.9h0M1007.1,86.6h0M1012.4,86.5h0M1015.7,86.3h0M1021.0,85.9h0M1024.3,87.1h0M1029.3,86.7h0M1033.3,86.9h0M1038.3,86.9h0M1041.3,87.0h0M1045.6,87.5h0M1050.5,87.0h0M1055.2,86.4h0M1059.9,86.8h0M1064.7,87.0h0M1068.1,88.0h0M1072.9,86.7h0M1076.2,87.7h0M1081.5,87.3h0M1085.0,86.4h0M1089.0,87.3h0M1093.7,87.1h0M1097.0,87.2h0M1102.0,85.4h0M1106.0,86.9h0M1111.7,85.3h0M1114.6,86.8h0M1118.8,86.5h0M1123.3,86.7h0M1127.4,86.5h0M1132.0,86.8h0M1136.7,87.2h0M1141.2,87.6h0M1144.5,86.6h0M851.0,90.3h0M855.7,90.7h0M858.9,91.5h0M864.6,91.2h0M868.1,90.9h0M872.4,90.2h0M875.7,90.6h0M879.9,90.8h0M884.5,90.6h0M889.4,89.9h0M893.3,90.2h0M898.9,90.7h0M902.3,90.9h0M906.1,89.7h0M910.6,91.0h0M915.2,90.5h0M919.7,90.2h0M924.5,90.8h0M927.8,89.9h0M932.5,90.0h0M936.8,90.8h0M941.1,90.5h0M945.1,90.0h0M949.2,91.1h0M953.6,90.5h0M958.4,90.7h0M962.4,89.6h0M968.0,89.9h0M971.5,89.9h0M975.8,89.9h0M980.7,90.7h0M983.3,91.3h0M987.4,90.3h0M993.3,90.2h0M997.7,90.5h0M1001.0,91.1h0M1005.6,90.2h0M1010.4,90.3h0M1013.5,90.1h0M1019.8,91.6h0M1022.0,90.8h0M1027.7,90.3h0M1031.7,89.9h0M1035.5,91.0h0M1040.0,90.4h0M1044.2,89.7h0M1048.1,90.2h0M1052.8,90.0h0M1058.2,89.5h0M1060.9,90.1h0M1066.0,89.7h0M1070.2,90.0h0M1074.0,90.6h0M1079.1,91.0h0M1082.4,91.0h0M1087.8,90.6h0M1091.8,90.5h0M1095.8,90.9h0M1101.1,90.3h0M1104.7,90.9h0M1108.1,91.3h0M1113.3,91.2h0M1117.3,90.0h0M1121.6,90.6h0M1125.5,90.9h0M1130.4,89.9h0M1134.9,90.4h0M1138.9,90.3h0M1142.8,89.8h0M857.9,94.3h0M862.1,93.8h0M865.5,94.8h0M869.1,93.6h0M873.4,93.8h0M880.1,93.8h0M883.6,95.0h0M887.0,93.8h0M891.8,94.5h0M895.1,93.8h0M901.1,93.8h0M904.7,94.7h0M908.7,94.1h0M912.9,93.8h0M917.1,93.3h0M921.5,94.1h0M926.4,94.0h0M930.0,95.1h0M934.6,94.1h0M938.7,94.2h0M942.8,93.9h0M947.1,93.6h0M951.6,93.5h0M957.0,93.6h0M961.3,94.3h0M965.2,94.9h0M968.2,95.0h0M973.6,93.9h0M977.3,94.4h0M981.1,95.1h0M986.2,94.6h0M990.6,94.0h0M994.7,93.8h0M999.8,94.2h0M1003.7,94.5h0M1008.1,94.4h0M1012.7,93.9h0M1015.9,94.2h0M1020.5,94.3h0M1025.6,94.7h0M1029.6,93.8h0M1033.8,94.3h0M1038.3,94.2h0M1042.0,94.3h0M1046.1,93.8h0M1050.9,94.2h0M1055.6,94.3h0M1058.8,94.9h0M1064.5,93.7h0M1067.7,94.7h0M1072.4,93.5h0M1077.2,94.3h0M1081.0,94.8h0M1084.8,93.9h0M1089.8,94.7h0M1093.8,94.8h0M1098.3,94.8h0M1102.0,94.1h0M1107.2,93.8h0M1110.6,94.3h0M1115.1,93.7h0M1118.8,94.9h0M1123.9,94.9h0M1127.7,94.2h0M1132.4,94.2h0M1136.0,94.8h0M859.7,98.0h0M864.1,98.0h0M867.8,98.2h0M872.5,98.3h0M876.5,97.8h0M880.8,97.2h0M885.4,97.6h0M889.1,97.7h0M894.8,97.5h0M898.8,96.9h0M902.2,98.9h0M906.8,98.1h0M910.7,96.9h0M915.5,98.4h0M920.1,98.9h0M923.8,98.2h0M927.1,97.7h0M932.6,98.6h0M937.7,98.7h0M941.3,97.9h0M945.4,97.9h0M949.8,98.5h0M953.9,97.1h0M957.7,99.4h0M963.3,97.7h0M966.8,98.3h0M971.3,98.1h0M974.5,97.2h0M979.9,98.3h0M984.3,98.7h0M988.4,98.1h0M992.7,98.4h0M996.7,98.9h0M1000.8,98.3h0M1006.0,98.7h0M1009.3,97.5h0M1014.1,98.3h0M1018.9,96.6h0M1022.6,98.1h0M1027.3,98.1h0M1031.3,98.0h0M1034.8,98.4h0M1038.8,97.8h0M1043.8,98.1h0M1048.1,98.4h0M1053.1,98.2h0M1057.7,98.5h0M1061.4,98.3h0M1066.0,98.3h0M1070.2,96.6h0M1074.3,97.9h0M1078.4,97.6h0M1083.0,97.6h0M1087.6,98.5h0M1091.6,98.3h0M1095.3,97.4h0M1100.0,97.4h0M1104.5,97.9h0M1109.6,97.6h0M1113.7,97.4h0M1117.3,98.3h0M1121.8,96.7h0M1126.0,98.1h0M1129.5,97.7h0M1134.4,98.1h0M865.6,101.3h0M870.4,102.1h0M875.5,101.6h0M878.2,101.8h0M883.0,101.8h0M887.4,101.9h0M891.4,101.8h0M896.4,101.8h0M900.5,101.4h0M905.0,101.6h0M908.5,101.6h0M913.0,101.6h0M917.2,102.5h0M922.2,101.9h0M926.3,101.6h0M930.8,101.6h0M934.6,101.3h0M939.5,102.2h0M943.8,102.2h0M946.4,101.7h0M952.3,101.9h0M955.4,101.8h0M960.8,101.4h0M964.2,101.4h0M967.6,101.8h0M972.9,101.5h0M977.5,101.6h0M982.7,101.2h0M986.1,100.6h0M990.2,100.7h0M995.2,101.6h0M998.8,102.1h0M1002.9,101.5h0M1007.3,101.2h0M1011.9,101.3h0M1016.2,101.1h0M1019.8,102.3h0M1025.1,101.5h0M1029.3,101.1h0M1033.7,100.9h0M1038.0,101.8h0M1042.1,102.0h0M1046.4,102.5h0M1051.0,100.9h0M1054.5,102.5h0M1059.1,101.8h0M1063.4,102.4h0M1068.5,102.1h0M1072.0,101.5h0M1077.2,101.4h0M1079.8,102.4h0M1085.6,101.0h0M1089.6,102.0h0M1093.9,102.5h0M1098.7,101.3h0M1102.3,102.1h0M1107.1,101.5h0M1111.5,101.3h0M1115.7,100.8h0M1119.8,102.7h0M1124.6,101.3h0M1126.7,101.8h0M873.0,105.1h0M877.0,105.5h0M881.7,105.4h0M885.1,104.4h0M889.8,105.4h0M893.5,105.3h0M898.8,105.6h0M902.9,105.3h0M906.9,105.9h0M910.9,106.1h0M915.2,106.4h0M919.4,105.3h0M924.0,105.3h0M928.2,105.5h0M933.2,105.2h0M937.4,105.9h0M941.2,105.4h0M946.4,104.2h0M949.5,105.4h0M954.3,105.5h0M958.8,105.8h0M963.2,105.2h0M967.2,106.3h0M971.0,105.6h0M974.9,105.7h0M979.5,105.8h0M983.6,105.5h0M988.0,105.5h0M993.0,106.6h0M997.3,105.7h0M1002.3,106.0h0M1005.1,105.7h0M1010.0,105.9h0M1014.5,104.6h0M1018.3,106.3h0M1023.3,105.0h0M1026.9,105.3h0M1030.8,103.8h0M1036.0,104.9h0M1039.6,105.0h0M1044.1,105.2h0M1049.3,105.2h0M1053.2,105.4h0M1057.8,105.4h0M1060.5,106.3h0M1066.6,105.7h0M1069.3,106.0h0M1074.6,105.0h0M1078.4,106.0h0M1082.7,105.3h0M1086.9,105.6h0M1091.1,105.7h0M1095.7,106.4h0M1099.9,105.4h0M1105.0,105.8h0M1108.0,105.5h0M1113.3,105.7h0M1117.3,106.2h0M1122.4,105.2h0M883.0,109.0h0M887.3,108.8h0M892.7,108.2h0M895.6,108.2h0M900.4,109.6h0M905.4,108.7h0M909.1,108.7h0M913.1,109.4h0M916.7,109.0h0M921.4,109.3h0M926.4,108.4h0M930.2,108.4h0M933.4,108.5h0M938.6,108.5h0M942.6,109.7h0M947.6,109.6h0M952.5,109.2h0M957.4,109.3h0M960.5,108.7h0M964.6,109.3h0M969.1,109.2h0M973.5,108.4h0M977.2,108.9h0M981.7,108.4h0M986.2,108.7h0M991.0,108.7h0M994.9,108.1h0M999.0,109.6h0M1003.4,109.4h0M1007.8,109.0h0M1012.3,109.3h0M1016.5,108.8h0M1020.4,107.7h0M1025.0,108.6h0M1028.8,109.5h0M1033.6,109.3h0M1037.4,109.3h0M1042.1,109.2h0M1046.3,109.9h0M1050.1,109.2h0M1055.1,109.6h0M1059.6,108.9h0M1063.7,109.9h0M1068.5,108.9h0M1072.3,109.1h0M1077.2,108.9h0M1081.5,110.0h0M1085.1,110.3h0M1089.3,109.0h0M1094.1,108.9h0M1098.1,108.6h0M1102.1,109.2h0M1106.0,109.5h0M1111.3,109.1h0M890.3,112.2h0M893.5,113.9h0M898.0,112.4h0M902.5,114.1h0M906.7,112.3h0M911.1,113.1h0M914.9,113.0h0M918.5,113.1h0M924.0,113.0h0M927.9,113.6h0M932.9,113.6h0M936.5,113.3h0M942.0,113.6h0M945.0,112.9h0M949.4,112.8h0M954.0,113.8h0M959.1,112.8h0M963.1,112.6h0M966.3,112.0h0M970.8,113.9h0M975.6,113.2h0M980.3,111.9h0M984.0,112.9h0M989.1,113.1h0M991.9,112.0h0M997.2,113.0h0M1000.6,112.2h0M1005.6,112.2h0M1010.1,112.8h0M1014.1,113.9h0M1018.1,112.3h0M1022.5,111.7h0M1027.5,113.2h0M1031.4,112.9h0M1035.7,112.1h0M1039.9,112.9h0M1044.7,113.0h0M1049.1,113.2h0M1051.9,112.5h0M1057.5,112.7h0M1061.5,113.3h0M1065.3,113.0h0M1070.9,112.9h0M1074.0,112.9h0M1078.5,112.3h0M1083.3,112.9h0M1086.3,113.5h0M1091.1,112.9h0M1096.1,112.8h0M1099.6,111.7h0M1104.2,113.0h0M900.2,116.7h0M904.3,116.2h0M909.4,116.8h0M913.5,117.5h0M917.1,116.3h0M921.5,117.1h0M925.3,116.3h0M930.7,115.8h0M935.0,117.4h0M939.2,116.2h0M943.0,116.1h0M947.5,117.1h0M952.4,115.5h0M955.8,116.8h0M960.3,115.4h0M964.9,116.9h0M969.0,116.6h0M973.8,115.9h0M977.5,116.8h0M983.7,116.3h0M986.6,117.5h0M990.9,117.1h0M995.5,115.7h0M999.4,116.4h0M1004.2,116.9h0M1007.9,116.7h0M1011.4,117.1h0M1015.5,116.5h0M1020.5,117.1h0M1025.0,116.2h0M1029.6,117.5h0M1033.0,117.4h0M1037.5,116.5h0M1042.1,116.1h0M1047.3,117.0h0M1051.1,115.9h0M1055.4,116.2h0M1060.1,115.7h0M1064.0,115.8h0M1067.2,116.8h0M1072.7,117.2h0M1076.4,116.4h0M1081.3,116.0h0M1084.6,116.9h0M1089.7,116.7h0M1094.4,115.8h0M910.5,120.2h0M915.7,121.0h0M920.6,120.0h0M923.2,120.9h0M928.7,120.7h0M933.2,120.0h0M936.0,121.4h0M941.3,120.2h0M945.8,121.5h0M949.8,121.3h0M954.1,121.4h0M958.4,121.0h0M962.6,120.7h0M967.0,120.2h0M971.3,120.7h0M975.4,120.1h0M980.0,121.1h0M984.1,119.9h0M988.0,120.4h0M993.5,119.8h0M997.6,120.3h0M1001.0,120.1h0M1006.2,120.1h0M1010.6,121.4h0M1013.8,119.7h0M1017.6,120.6h0M1022.3,120.0h0M1026.7,121.1h0M1031.7,120.7h0M1034.8,119.9h0M1040.0,120.3h0M1044.4,121.2h0M1048.9,120.8h0M1052.8,120.2h0M1056.9,120.3h0M1060.6,120.1h0M1065.8,120.1h0M1070.1,119.4h0M1074.1,120.4h0M1079.3,120.4h0M1082.9,120.1h0M927.3,124.3h0M931.2,124.5h0M933.8,123.5h0M939.1,124.4h0M943.6,123.1h0M947.2,124.4h0M952.5,124.4h0M955.5,123.9h0M960.3,123.9h0M965.3,124.7h0M969.7,123.6h0M972.7,123.4h0M977.5,124.2h0M981.3,124.3h0M986.4,124.0h0M990.8,123.6h0M994.3,124.8h0M999.0,124.6h0M1003.1,123.0h0M1008.0,123.5h0M1011.6,124.6h0M1015.6,124.0h0M1021.2,125.1h0M1024.5,124.2h0M1028.9,124.7h0M1033.3,124.8h0M1037.2,124.5h0M1042.9,124.5h0M1046.5,123.9h0M1050.1,124.6h0M1055.5,124.3h0M1058.7,123.7h0M1063.6,125.0h0M1071.5,123.1h0M945.2,126.6h0M950.0,127.5h0M953.2,128.1h0M958.6,127.4h0M962.6,128.1h0M966.9,127.5h0M971.9,127.7h0M976.1,127.8h0M979.6,128.5h0M983.8,128.0h0M988.7,128.4h0M992.7,127.1h0M996.1,126.9h0M1000.7,127.8h0M1005.4,127.6h0M1009.8,127.5h0M1014.1,127.9h0M1019.6,127.7h0M1022.7,127.7h0M1026.7,128.2h0M1030.7,128.9h0M1034.9,127.8h0M1040.5,128.1h0M1044.7,127.1h0" stroke="#3e3e3e" stroke-width="2.7" stroke-linecap="round"/>
<path d="M905.7,53.2h0M893.7,79.7h0M893.6,78.0h0M898.3,92.7h0M904.1,22.1h0M885.0,71.3h0M895.9,23.4h0M900.9,45.9h0M900.2,95.8h0M892.2,92.0h0M901.2,100.6h0M895.0,74.9h0M903.2,75.9h0M894.0,58.8h0M900.2,27.8h0M906.5,88.6h0M893.1,46.8h0M901.7,46.4h0M899.1,36.5h0M895.8,88.6h0M898.9,101.2h0M900.2,33.0h0M896.8,79.7h0M902.9,95.3h0M902.7,24.3h0M911.4,31.0h0M907.9,75.6h0M896.7,95.5h0M951.6,41.9h0M944.6,65.4h0M949.2,68.9h0M946.7,116.8h0M950.3,113.0h0M941.5,71.5h0M948.5,30.1h0M949.0,18.5h0M951.0,107.2h0M959.7,17.2h0M952.3,66.3h0M952.1,72.1h0M949.9,14.3h0M946.4,87.5h0M957.5,121.6h0M946.4,93.8h0M950.2,88.6h0M949.1,112.0h0M946.2,80.5h0M955.7,97.9h0M947.9,75.9h0M949.9,59.3h0M958.5,112.9h0M951.9,53.6h0M950.1,116.6h0M955.7,24.5h0M959.6,83.8h0M945.5,50.1h0M947.7,85.1h0M950.5,12.5h0M946.6,42.0h0M951.2,111.3h0M947.8,78.1h0M955.1,59.0h0M948.2,50.0h0M950.9,116.5h0M948.6,93.5h0M950.9,68.6h0M947.6,110.9h0M939.9,34.4h0M956.0,35.9h0M986.0,81.5h0M982.3,45.1h0M989.5,45.7h0M978.1,84.6h0M981.8,77.8h0M984.5,59.1h0M972.7,12.6h0M983.1,90.7h0M986.4,74.2h0M982.6,125.2h0M980.7,80.2h0M985.0,93.7h0M978.7,100.2h0M982.7,21.2h0M980.1,68.8h0M984.2,31.4h0M981.6,117.5h0M984.5,66.0h0M986.7,63.8h0M990.8,55.4h0M971.5,86.6h0M974.8,27.9h0M972.3,26.2h0M981.5,128.2h0M980.6,37.4h0M985.9,92.8h0M988.0,120.7h0M981.9,123.1h0M978.7,71.9h0M981.7,64.2h0M972.9,36.2h0M981.5,27.9h0M978.9,113.0h0M984.4,121.3h0M985.8,76.1h0M985.1,75.5h0M979.8,24.4h0M978.6,46.6h0M980.6,74.3h0M983.9,101.9h0M981.6,32.7h0M993.1,113.9h0M1013.1,55.2h0M1007.5,96.8h0M1020.5,51.1h0M1014.0,17.1h0M1011.0,36.4h0M1008.6,20.9h0M1002.1,112.6h0M1009.0,55.6h0M1007.1,110.0h0M1008.7,27.2h0M1011.4,59.4h0M1014.3,115.7h0M1007.3,127.2h0M1017.2,36.0h0M1016.5,63.9h0M1014.5,98.9h0M1017.4,42.2h0M1017.7,125.4h0M1010.7,55.8h0M1005.9,29.1h0M1016.0,120.7h0M1009.4,77.4h0M1009.2,33.1h0M1016.3,123.8h0M1013.9,105.1h0M1009.5,94.9h0M1010.7,67.3h0M1013.4,51.8h0M1018.0,30.4h0M1012.5,101.9h0M1013.6,81.9h0M1009.3,24.5h0M1011.7,13.6h0M1019.3,105.7h0M1010.5,95.5h0M1015.9,73.6h0M1012.4,101.8h0M1010.4,105.5h0M1010.5,93.9h0M1013.2,66.0h0M1003.0,91.6h0M1042.1,16.9h0M1039.9,58.7h0M1033.6,107.7h0M1031.1,115.4h0M1035.8,32.2h0M1034.4,81.7h0M1045.9,85.4h0M1044.0,89.9h0M1030.5,38.1h0M1038.4,123.8h0M1031.2,97.8h0M1037.5,84.8h0M1034.6,118.3h0M1039.0,88.9h0M1042.5,110.6h0M1038.1,98.2h0M1032.5,26.1h0M1036.7,55.2h0M1036.9,53.7h0M1032.1,90.8h0M1040.4,78.2h0M1026.3,48.0h0M1031.1,47.2h0M1040.1,30.3h0M1046.2,20.2h0M1036.1,105.9h0M1036.6,88.3h0M1030.6,60.0h0M1036.7,97.4h0M1030.4,118.7h0M1029.9,96.7h0M1039.0,101.6h0M1033.5,93.4h0M1037.5,76.4h0M1041.2,40.8h0M1038.9,22.0h0M1033.7,77.2h0M1033.9,103.8h0M1057.0,46.3h0M1064.1,15.2h0M1062.0,18.1h0M1070.3,38.9h0M1064.5,122.1h0M1066.4,66.6h0M1070.8,69.0h0M1061.4,48.0h0M1060.4,48.5h0M1059.5,85.8h0M1060.7,53.6h0M1063.6,77.9h0M1059.5,62.4h0M1061.2,16.7h0M1059.9,34.7h0M1062.3,20.7h0M1067.4,15.2h0M1061.5,116.1h0M1063.4,34.7h0M1060.9,31.9h0M1067.9,96.3h0M1062.5,122.3h0M1064.5,86.1h0M1067.8,53.5h0M1060.2,113.7h0M1060.1,88.6h0M1061.7,43.9h0M1070.2,89.6h0M1068.8,104.2h0M1063.2,87.4h0M1063.5,95.9h0M1072.5,57.1h0M1067.1,18.3h0M1067.9,118.6h0M1065.2,68.9h0M1061.6,59.2h0M1062.3,68.9h0M1064.9,103.0h0M1085.2,26.4h0M1082.1,28.7h0M1085.8,85.9h0M1093.7,62.7h0M1084.9,107.1h0M1087.0,33.6h0M1091.8,63.7h0M1087.7,24.6h0M1087.5,116.4h0M1092.0,65.1h0M1088.2,94.7h0M1094.2,28.4h0M1094.1,43.0h0M1089.3,28.0h0M1091.3,41.3h0M1088.7,74.5h0M1089.5,52.8h0M1094.4,50.3h0M1090.2,111.7h0M1091.5,67.2h0M1083.4,81.9h0M1082.6,21.1h0M1088.9,61.2h0M1090.5,78.6h0M1093.6,112.9h0M1089.2,100.3h0M1087.1,69.3h0M1089.9,90.9h0M1083.9,68.6h0M1101.0,49.6h0M1094.4,74.1h0M1085.1,39.1h0M1091.5,42.3h0M1092.0,38.4h0M1085.4,60.9h0" stroke="#b4b4b4" stroke-width="1.5" stroke-linecap="round"/>
</g>
<text x="836" y="30.6" font-size="20.5" fill="#fff">100 µm</text>
<rect x="839" y="39.9" width="60.4" height="3" fill="#fff"/>
<text x="1152.5" y="33.3" font-size="21.3" font-style="italic" fill="#fff" text-anchor="end">eve-MS2</text>
<rect x="948.9" y="60" width="73.8" height="18.2" fill="none" stroke="#fff" stroke-width="2.8"/>
<defs><filter id="nz" x="0" y="0" width="1" height="1"><feTurbulence type="fractalNoise" baseFrequency="0.9" numOctaves="1" seed="4"/><feColorMatrix type="saturate" values="0"/><feComponentTransfer><feFuncR type="linear" slope="1" intercept="-0.5"/><feFuncG type="linear" slope="1" intercept="-0.5"/><feFuncB type="linear" slope="1" intercept="-0.5"/><feFuncA type="linear" slope="0" intercept="0.35"/></feComponentTransfer><feComposite in2="SourceGraphic" operator="in"/><feBlend in="SourceGraphic" mode="normal"/></filter></defs>
<defs><filter id="gn" filterUnits="userSpaceOnUse" x="805" y="135.6" width="389" height="288.4" color-interpolation-filters="sRGB"><feTurbulence type="fractalNoise" baseFrequency="2.3" numOctaves="1" seed="2" result="t"/><feColorMatrix in="t" type="matrix" values="1 0 0 0 0  1 0 0 0 0  1 0 0 0 0  0 0 0 0 1" result="n"/><feComposite in="SourceGraphic" in2="n" operator="arithmetic" k1="0" k2="1" k3="0.45" k4="-0.225"/></filter></defs>
<defs><filter id="sb" x="-0.02" y="-0.05" width="1.04" height="1.1"><feGaussianBlur stdDeviation="0.9"/></filter></defs>
<g filter="url(#gn)">
<rect x="805" y="135.6" width="389" height="94.20000000000002" fill="#3c3c3c"/>
<path d="M1074.6,217.1h0M878.3,172.4h0M1049.9,186.4h0M858.7,219.5h0M1162.6,181.1h0M1082.3,179.2h0M1081.5,145.8h0M833.4,160.9h0M959.2,221.8h0M1092.0,148.5h0M1017.6,198.8h0M822.1,168.2h0M1157.9,181.1h0M999.4,185.5h0M1038.8,193.5h0M1057.2,220.9h0M974.4,201.9h0M1083.8,200.3h0M1063.0,148.7h0M1139.4,195.4h0M1133.4,178.5h0M910.7,168.4h0M956.4,153.7h0M1145.7,166.8h0M1124.4,144.2h0M978.8,218.0h0M1149.0,170.6h0M952.0,188.3h0M1175.3,157.0h0M975.6,225.8h0M1167.4,188.6h0M1043.8,225.4h0M901.9,198.4h0M874.8,152.2h0M854.8,200.8h0M941.8,168.8h0M1140.1,175.6h0M1183.6,182.6h0M1097.5,202.4h0M828.2,159.7h0M839.2,188.3h0M1141.8,171.5h0M889.9,144.1h0M833.1,195.2h0M875.4,193.5h0M813.0,223.2h0M832.0,171.8h0M1148.8,167.5h0M1104.4,157.2h0M850.7,190.1h0M1074.9,145.8h0M1088.3,165.5h0M1152.3,140.9h0M1062.3,200.8h0M826.4,193.7h0M849.8,177.6h0M1114.8,206.5h0M959.0,217.7h0M965.9,140.5h0M1049.4,192.7h0" stroke="#4a4a4a" stroke-width="2.2" stroke-linecap="round"/>
<path d="M875,173h0M857,182h0M902,168h0M1104,166h0M1071,152h0M852,205h0M888,214h0M1003,199h0M1017,177h0M1007,221h0M990,160h0M1120,210h0M1085,220h0" stroke="#e8e8e8" stroke-width="2.4" stroke-linecap="round"/>
<rect x="805" y="229.8" width="389" height="98.0" fill="#232323"/>
<defs><clipPath id="ms2c"><rect x="805" y="229.8" width="389" height="98.0"/></clipPath></defs>
<g clip-path="url(#ms2c)" fill="#4a4a4a" filter="url(#sb)"><ellipse cx="809.2" cy="234.4" rx="8.0" ry="7.5"/><ellipse cx="827.2" cy="233.7" rx="8.5" ry="7.9"/><ellipse cx="845.5" cy="234.4" rx="7.6" ry="7.1"/><ellipse cx="863.8" cy="234.7" rx="7.9" ry="7.3"/><ellipse cx="881.7" cy="234.0" rx="7.9" ry="7.4"/><ellipse cx="900.9" cy="234.1" rx="7.9" ry="7.4"/><ellipse cx="919.7" cy="233.6" rx="8.1" ry="7.5"/><ellipse cx="937.6" cy="233.0" rx="7.8" ry="7.2"/><ellipse cx="955.8" cy="234.3" rx="7.8" ry="7.3"/><ellipse cx="974.0" cy="233.9" rx="8.3" ry="7.8"/><ellipse cx="993.1" cy="233.6" rx="7.6" ry="7.0"/><ellipse cx="1011.6" cy="234.5" rx="8.0" ry="7.4"/><ellipse cx="1029.9" cy="233.3" rx="7.9" ry="7.3"/><ellipse cx="1048.3" cy="233.7" rx="8.3" ry="7.7"/><ellipse cx="1066.7" cy="233.5" rx="7.9" ry="7.3"/><ellipse cx="1085.3" cy="233.1" rx="8.3" ry="7.7"/><ellipse cx="1103.2" cy="233.0" rx="7.8" ry="7.2"/><ellipse cx="1121.6" cy="235.3" rx="8.0" ry="7.5"/><ellipse cx="1139.4" cy="234.3" rx="7.7" ry="7.2"/><ellipse cx="1157.8" cy="234.0" rx="8.4" ry="7.8"/><ellipse cx="1178.2" cy="234.0" rx="7.8" ry="7.3"/><ellipse cx="1195.4" cy="234.6" rx="8.7" ry="8.1"/><ellipse cx="1213.3" cy="234.8" rx="8.0" ry="7.5"/><ellipse cx="817.5" cy="250.1" rx="8.1" ry="7.6"/><ellipse cx="835.7" cy="249.1" rx="8.1" ry="7.5"/><ellipse cx="855.3" cy="249.0" rx="8.5" ry="7.9"/><ellipse cx="872.9" cy="249.1" rx="8.3" ry="7.8"/><ellipse cx="892.5" cy="249.5" rx="8.0" ry="7.5"/><ellipse cx="910.4" cy="250.4" rx="7.9" ry="7.4"/><ellipse cx="928.5" cy="249.3" rx="7.5" ry="7.0"/><ellipse cx="947.4" cy="249.4" rx="8.4" ry="7.9"/><ellipse cx="965.1" cy="250.5" rx="8.2" ry="7.6"/><ellipse cx="984.4" cy="248.9" rx="7.9" ry="7.3"/><ellipse cx="1001.8" cy="250.8" rx="8.2" ry="7.7"/><ellipse cx="1020.3" cy="248.3" rx="7.8" ry="7.2"/><ellipse cx="1039.8" cy="249.4" rx="8.3" ry="7.7"/><ellipse cx="1056.4" cy="249.9" rx="8.5" ry="7.9"/><ellipse cx="1076.0" cy="249.1" rx="7.7" ry="7.2"/><ellipse cx="1094.5" cy="249.0" rx="7.6" ry="7.1"/><ellipse cx="1112.7" cy="249.0" rx="7.7" ry="7.1"/><ellipse cx="1130.9" cy="249.6" rx="7.6" ry="7.1"/><ellipse cx="1149.4" cy="250.4" rx="8.3" ry="7.7"/><ellipse cx="1168.4" cy="250.3" rx="8.1" ry="7.5"/><ellipse cx="1186.3" cy="249.1" rx="7.8" ry="7.2"/><ellipse cx="1204.1" cy="249.0" rx="8.8" ry="8.2"/><ellipse cx="1223.8" cy="248.7" rx="8.3" ry="7.7"/><ellipse cx="809.0" cy="265.8" rx="8.2" ry="7.7"/><ellipse cx="827.9" cy="264.9" rx="7.7" ry="7.2"/><ellipse cx="845.5" cy="266.1" rx="8.1" ry="7.5"/><ellipse cx="864.1" cy="265.4" rx="8.4" ry="7.8"/><ellipse cx="882.8" cy="266.4" rx="8.8" ry="8.2"/><ellipse cx="901.4" cy="265.1" rx="7.7" ry="7.1"/><ellipse cx="919.3" cy="265.7" rx="8.1" ry="7.5"/><ellipse cx="938.0" cy="265.6" rx="8.6" ry="8.0"/><ellipse cx="956.2" cy="266.4" rx="8.2" ry="7.6"/><ellipse cx="974.4" cy="265.7" rx="7.9" ry="7.4"/><ellipse cx="993.1" cy="264.3" rx="8.1" ry="7.6"/><ellipse cx="1012.0" cy="266.3" rx="7.9" ry="7.3"/><ellipse cx="1029.2" cy="266.3" rx="7.6" ry="7.1"/><ellipse cx="1048.1" cy="265.4" rx="8.2" ry="7.6"/><ellipse cx="1067.1" cy="266.4" rx="7.4" ry="6.9"/><ellipse cx="1084.8" cy="264.4" rx="7.8" ry="7.3"/><ellipse cx="1102.4" cy="265.4" rx="7.9" ry="7.3"/><ellipse cx="1121.9" cy="265.9" rx="8.1" ry="7.5"/><ellipse cx="1140.6" cy="266.2" rx="8.0" ry="7.5"/><ellipse cx="1158.5" cy="265.1" rx="7.7" ry="7.2"/><ellipse cx="1177.4" cy="266.5" rx="8.1" ry="7.6"/><ellipse cx="1194.5" cy="265.1" rx="8.2" ry="7.6"/><ellipse cx="1213.8" cy="265.0" rx="8.1" ry="7.6"/><ellipse cx="818.2" cy="280.6" rx="7.7" ry="7.2"/><ellipse cx="836.9" cy="280.9" rx="8.0" ry="7.4"/><ellipse cx="855.7" cy="281.9" rx="8.3" ry="7.7"/><ellipse cx="872.6" cy="281.0" rx="8.1" ry="7.5"/><ellipse cx="891.7" cy="281.9" rx="8.3" ry="7.7"/><ellipse cx="910.8" cy="282.3" rx="8.0" ry="7.5"/><ellipse cx="928.0" cy="282.0" rx="8.1" ry="7.6"/><ellipse cx="947.1" cy="281.2" rx="8.0" ry="7.5"/><ellipse cx="966.8" cy="280.4" rx="8.3" ry="7.8"/><ellipse cx="984.0" cy="281.9" rx="7.9" ry="7.4"/><ellipse cx="1002.2" cy="281.2" rx="8.0" ry="7.4"/><ellipse cx="1020.3" cy="282.5" rx="8.5" ry="7.9"/><ellipse cx="1039.3" cy="281.8" rx="7.9" ry="7.4"/><ellipse cx="1056.5" cy="281.7" rx="7.8" ry="7.2"/><ellipse cx="1075.5" cy="280.9" rx="7.9" ry="7.4"/><ellipse cx="1093.9" cy="282.3" rx="8.6" ry="8.0"/><ellipse cx="1112.6" cy="281.8" rx="8.1" ry="7.5"/><ellipse cx="1131.2" cy="281.2" rx="8.2" ry="7.7"/><ellipse cx="1148.4" cy="280.0" rx="8.7" ry="8.1"/><ellipse cx="1167.9" cy="281.5" rx="8.3" ry="7.7"/><ellipse cx="1186.3" cy="282.0" rx="7.7" ry="7.2"/><ellipse cx="1204.2" cy="282.3" rx="8.2" ry="7.6"/><ellipse cx="1222.5" cy="280.7" rx="8.7" ry="8.1"/><ellipse cx="809.6" cy="297.7" rx="7.6" ry="7.1"/><ellipse cx="827.0" cy="296.7" rx="7.4" ry="6.9"/><ellipse cx="845.4" cy="297.1" rx="8.8" ry="8.2"/><ellipse cx="863.4" cy="298.0" rx="8.2" ry="7.6"/><ellipse cx="883.0" cy="297.5" rx="8.4" ry="7.8"/><ellipse cx="900.9" cy="298.1" rx="8.3" ry="7.8"/><ellipse cx="918.8" cy="297.3" rx="8.7" ry="8.1"/><ellipse cx="938.8" cy="296.9" rx="8.2" ry="7.6"/><ellipse cx="957.2" cy="297.7" rx="7.9" ry="7.3"/><ellipse cx="975.0" cy="297.5" rx="7.5" ry="7.0"/><ellipse cx="993.3" cy="297.5" rx="8.3" ry="7.7"/><ellipse cx="1012.5" cy="298.5" rx="8.7" ry="8.1"/><ellipse cx="1030.8" cy="296.8" rx="7.7" ry="7.2"/><ellipse cx="1048.4" cy="297.4" rx="8.3" ry="7.7"/><ellipse cx="1066.3" cy="297.8" rx="8.7" ry="8.1"/><ellipse cx="1084.9" cy="297.4" rx="7.9" ry="7.4"/><ellipse cx="1102.2" cy="297.3" rx="8.0" ry="7.5"/><ellipse cx="1122.0" cy="297.0" rx="8.6" ry="8.0"/><ellipse cx="1140.8" cy="298.6" rx="7.2" ry="6.7"/><ellipse cx="1158.3" cy="297.8" rx="8.3" ry="7.7"/><ellipse cx="1177.3" cy="297.4" rx="8.5" ry="7.9"/><ellipse cx="1195.2" cy="297.3" rx="9.0" ry="8.4"/><ellipse cx="1213.7" cy="298.0" rx="8.2" ry="7.6"/><ellipse cx="818.7" cy="313.4" rx="8.5" ry="7.9"/><ellipse cx="837.4" cy="313.3" rx="8.0" ry="7.4"/><ellipse cx="854.7" cy="312.8" rx="8.7" ry="8.1"/><ellipse cx="874.6" cy="312.3" rx="7.9" ry="7.3"/><ellipse cx="891.9" cy="313.9" rx="7.7" ry="7.2"/><ellipse cx="909.9" cy="313.4" rx="8.4" ry="7.8"/><ellipse cx="928.1" cy="314.0" rx="7.8" ry="7.3"/><ellipse cx="947.6" cy="313.0" rx="8.0" ry="7.4"/><ellipse cx="965.9" cy="313.6" rx="8.4" ry="7.8"/><ellipse cx="983.8" cy="313.2" rx="8.6" ry="8.0"/><ellipse cx="1003.4" cy="313.6" rx="8.3" ry="7.7"/><ellipse cx="1020.2" cy="314.5" rx="8.0" ry="7.4"/><ellipse cx="1039.3" cy="314.2" rx="7.1" ry="6.6"/><ellipse cx="1057.2" cy="312.5" rx="8.0" ry="7.4"/><ellipse cx="1075.8" cy="312.4" rx="8.5" ry="7.9"/><ellipse cx="1095.6" cy="313.1" rx="8.1" ry="7.5"/><ellipse cx="1113.7" cy="313.6" rx="7.7" ry="7.2"/><ellipse cx="1131.4" cy="312.9" rx="8.6" ry="8.0"/><ellipse cx="1149.0" cy="314.2" rx="7.7" ry="7.1"/><ellipse cx="1167.7" cy="312.0" rx="9.0" ry="8.4"/><ellipse cx="1186.2" cy="313.1" rx="8.3" ry="7.7"/><ellipse cx="1204.7" cy="313.6" rx="8.9" ry="8.3"/><ellipse cx="1224.0" cy="313.1" rx="8.2" ry="7.7"/><ellipse cx="809.0" cy="329.5" rx="7.8" ry="7.2"/><ellipse cx="827.2" cy="328.3" rx="8.3" ry="7.7"/><ellipse cx="845.4" cy="329.9" rx="8.2" ry="7.6"/><ellipse cx="863.4" cy="330.3" rx="7.4" ry="6.9"/><ellipse cx="884.4" cy="330.3" rx="8.7" ry="8.1"/><ellipse cx="902.1" cy="330.0" rx="8.1" ry="7.5"/><ellipse cx="919.0" cy="329.3" rx="7.2" ry="6.7"/><ellipse cx="938.1" cy="329.2" rx="8.2" ry="7.6"/><ellipse cx="955.9" cy="328.3" rx="8.1" ry="7.6"/><ellipse cx="974.4" cy="329.0" rx="8.1" ry="7.6"/><ellipse cx="993.5" cy="330.0" rx="7.7" ry="7.1"/><ellipse cx="1011.5" cy="328.0" rx="7.7" ry="7.1"/><ellipse cx="1029.1" cy="329.0" rx="8.1" ry="7.5"/><ellipse cx="1048.4" cy="329.2" rx="8.1" ry="7.5"/><ellipse cx="1065.7" cy="329.5" rx="7.7" ry="7.2"/><ellipse cx="1085.4" cy="329.0" rx="8.8" ry="8.2"/><ellipse cx="1102.8" cy="329.5" rx="8.5" ry="7.9"/><ellipse cx="1121.5" cy="329.0" rx="8.7" ry="8.1"/><ellipse cx="1140.8" cy="329.4" rx="7.9" ry="7.4"/><ellipse cx="1158.3" cy="328.2" rx="8.7" ry="8.1"/><ellipse cx="1177.1" cy="329.6" rx="8.6" ry="8.0"/><ellipse cx="1195.9" cy="329.2" rx="8.6" ry="8.0"/><ellipse cx="1212.7" cy="330.0" rx="8.3" ry="7.7"/><ellipse cx="818.2" cy="345.6" rx="8.5" ry="7.9"/><ellipse cx="836.2" cy="345.3" rx="8.0" ry="7.4"/><ellipse cx="855.0" cy="345.7" rx="8.0" ry="7.4"/><ellipse cx="872.8" cy="345.0" rx="8.7" ry="8.1"/><ellipse cx="892.7" cy="345.7" rx="8.7" ry="8.1"/><ellipse cx="910.2" cy="344.8" rx="7.9" ry="7.3"/><ellipse cx="928.9" cy="345.5" rx="7.7" ry="7.2"/><ellipse cx="948.6" cy="345.7" rx="7.6" ry="7.1"/><ellipse cx="964.3" cy="345.3" rx="8.2" ry="7.6"/><ellipse cx="983.1" cy="345.1" rx="8.1" ry="7.5"/><ellipse cx="1002.1" cy="345.8" rx="7.6" ry="7.1"/><ellipse cx="1020.5" cy="344.3" rx="8.1" ry="7.5"/><ellipse cx="1039.1" cy="346.4" rx="7.7" ry="7.2"/><ellipse cx="1057.5" cy="345.0" rx="8.1" ry="7.5"/><ellipse cx="1075.3" cy="344.3" rx="7.8" ry="7.3"/><ellipse cx="1093.7" cy="345.6" rx="8.0" ry="7.4"/><ellipse cx="1113.4" cy="344.5" rx="7.4" ry="6.9"/><ellipse cx="1130.6" cy="344.8" rx="8.8" ry="8.2"/><ellipse cx="1148.7" cy="345.6" rx="8.0" ry="7.4"/><ellipse cx="1167.4" cy="345.6" rx="7.9" ry="7.3"/><ellipse cx="1187.3" cy="345.5" rx="8.4" ry="7.8"/><ellipse cx="1204.5" cy="345.4" rx="8.5" ry="7.9"/><ellipse cx="1222.5" cy="345.1" rx="7.8" ry="7.2"/></g>
<path d="M952.0,311.5h0M1058.0,257.4h0M1041.9,279.3h0M1116.7,278.5h0M930.1,306.5h0M958.4,253.7h0M811.8,300.4h0M976.4,273.4h0M1136.6,249.0h0M966.1,280.3h0M930.6,235.0h0M1124.0,262.7h0M910.5,270.7h0M1134.7,239.3h0M916.9,237.8h0M1040.1,250.7h0M937.1,248.8h0M860.4,274.8h0M863.3,286.1h0M1125.1,313.5h0M1161.7,246.2h0M861.8,298.8h0M972.8,266.1h0M832.3,275.7h0M981.3,324.0h0M1175.2,256.6h0M1053.1,249.1h0M914.6,274.1h0M1074.0,260.6h0M1162.2,267.4h0M1037.3,257.3h0M1156.2,267.1h0M1073.1,310.3h0M939.0,284.2h0M1110.0,281.8h0M1094.3,281.1h0M1143.3,235.3h0M816.0,265.2h0M1104.9,233.5h0M856.4,241.2h0M1155.3,321.3h0M840.8,301.2h0M897.9,245.2h0M839.6,295.2h0M1008.3,319.8h0M1090.2,262.0h0M862.0,300.3h0M901.8,233.1h0M964.6,288.6h0M974.8,305.9h0M1059.7,322.2h0M1133.5,280.4h0M1049.1,305.4h0M1090.4,257.4h0M1160.5,319.8h0" stroke="#dcdcdc" stroke-width="2.2" stroke-linecap="round"/>
<rect x="805" y="327.8" width="389" height="96.19999999999999" fill="#5f5f5f"/>
<defs><clipPath id="parc"><rect x="805" y="327.8" width="389" height="96.19999999999999"/></clipPath></defs>
<g clip-path="url(#parc)" fill="#2a2a2a" filter="url(#sb)"><circle cx="808.6" cy="335.1" r="7.3"/><circle cx="825.6" cy="333.7" r="7.4"/><circle cx="845.6" cy="331.6" r="7.9"/><circle cx="863.3" cy="334.4" r="6.9"/><circle cx="878.7" cy="334.8" r="7.3"/><circle cx="899.0" cy="332.6" r="7.7"/><circle cx="916.3" cy="332.5" r="7.3"/><circle cx="935.4" cy="333.0" r="7.8"/><circle cx="951.4" cy="332.8" r="7.2"/><circle cx="968.1" cy="335.5" r="6.8"/><circle cx="985.8" cy="333.8" r="7.8"/><circle cx="1003.5" cy="332.9" r="7.3"/><circle cx="1022.2" cy="333.8" r="7.1"/><circle cx="1040.3" cy="334.5" r="6.9"/><circle cx="1056.5" cy="333.0" r="7.4"/><circle cx="1078.6" cy="334.6" r="7.6"/><circle cx="1090.8" cy="331.9" r="7.6"/><circle cx="1111.0" cy="333.0" r="7.7"/><circle cx="1130.5" cy="334.3" r="7.5"/><circle cx="1145.3" cy="333.5" r="7.7"/><circle cx="1164.7" cy="332.3" r="6.4"/><circle cx="1182.4" cy="334.3" r="7.1"/><circle cx="1200.3" cy="334.2" r="7.2"/><circle cx="817.7" cy="348.5" r="7.1"/><circle cx="836.1" cy="349.7" r="7.3"/><circle cx="852.0" cy="349.6" r="7.7"/><circle cx="872.0" cy="349.9" r="7.4"/><circle cx="888.8" cy="349.7" r="7.6"/><circle cx="907.5" cy="348.3" r="6.7"/><circle cx="925.1" cy="349.5" r="7.5"/><circle cx="943.0" cy="347.7" r="7.1"/><circle cx="960.9" cy="348.7" r="7.3"/><circle cx="979.5" cy="349.9" r="7.2"/><circle cx="996.2" cy="348.5" r="7.6"/><circle cx="1012.4" cy="347.6" r="8.0"/><circle cx="1032.5" cy="348.3" r="7.6"/><circle cx="1046.9" cy="349.3" r="7.8"/><circle cx="1067.9" cy="349.4" r="7.4"/><circle cx="1085.1" cy="351.3" r="7.2"/><circle cx="1102.9" cy="350.0" r="7.1"/><circle cx="1122.0" cy="347.3" r="7.3"/><circle cx="1137.9" cy="349.1" r="6.9"/><circle cx="1155.7" cy="349.5" r="7.1"/><circle cx="1174.8" cy="347.3" r="7.3"/><circle cx="1193.3" cy="348.3" r="7.4"/><circle cx="1209.1" cy="348.6" r="7.7"/><circle cx="807.7" cy="365.1" r="6.9"/><circle cx="826.5" cy="365.4" r="7.2"/><circle cx="844.6" cy="366.8" r="7.5"/><circle cx="862.7" cy="365.2" r="7.6"/><circle cx="880.2" cy="364.3" r="7.5"/><circle cx="898.3" cy="365.9" r="7.4"/><circle cx="916.6" cy="366.5" r="6.7"/><circle cx="933.4" cy="364.3" r="7.3"/><circle cx="952.8" cy="364.3" r="7.5"/><circle cx="970.8" cy="362.5" r="6.9"/><circle cx="985.8" cy="364.6" r="7.6"/><circle cx="1003.9" cy="366.0" r="8.0"/><circle cx="1021.8" cy="364.0" r="7.0"/><circle cx="1041.0" cy="364.2" r="7.8"/><circle cx="1059.3" cy="364.6" r="7.1"/><circle cx="1073.5" cy="364.9" r="7.6"/><circle cx="1093.8" cy="363.8" r="7.8"/><circle cx="1111.5" cy="365.3" r="7.7"/><circle cx="1130.4" cy="365.3" r="6.8"/><circle cx="1147.6" cy="364.5" r="7.2"/><circle cx="1164.1" cy="363.6" r="7.2"/><circle cx="1182.5" cy="364.6" r="6.6"/><circle cx="1199.7" cy="365.3" r="7.8"/><circle cx="817.6" cy="379.5" r="8.1"/><circle cx="834.7" cy="381.0" r="7.7"/><circle cx="853.9" cy="381.0" r="7.7"/><circle cx="871.1" cy="380.7" r="8.4"/><circle cx="889.3" cy="381.0" r="8.2"/><circle cx="906.0" cy="380.0" r="7.0"/><circle cx="924.8" cy="379.5" r="7.9"/><circle cx="942.2" cy="380.7" r="7.5"/><circle cx="960.8" cy="379.1" r="7.8"/><circle cx="978.0" cy="379.8" r="7.1"/><circle cx="996.4" cy="379.5" r="7.1"/><circle cx="1013.7" cy="377.8" r="7.9"/><circle cx="1031.0" cy="381.0" r="6.9"/><circle cx="1047.3" cy="379.1" r="7.6"/><circle cx="1068.4" cy="381.4" r="7.8"/><circle cx="1084.1" cy="379.5" r="7.6"/><circle cx="1103.4" cy="379.1" r="7.0"/><circle cx="1119.2" cy="381.2" r="7.0"/><circle cx="1138.6" cy="380.1" r="7.6"/><circle cx="1154.6" cy="380.1" r="7.8"/><circle cx="1174.5" cy="379.6" r="7.7"/><circle cx="1192.0" cy="379.7" r="7.4"/><circle cx="1211.8" cy="379.5" r="6.8"/><circle cx="809.7" cy="396.2" r="7.6"/><circle cx="826.7" cy="396.4" r="8.2"/><circle cx="846.1" cy="393.4" r="7.1"/><circle cx="862.7" cy="393.3" r="8.1"/><circle cx="881.0" cy="394.7" r="7.0"/><circle cx="899.2" cy="395.1" r="7.5"/><circle cx="914.8" cy="394.3" r="7.2"/><circle cx="933.7" cy="396.2" r="7.2"/><circle cx="952.2" cy="395.0" r="7.1"/><circle cx="968.8" cy="395.0" r="6.9"/><circle cx="985.2" cy="395.9" r="7.5"/><circle cx="1005.5" cy="393.8" r="7.3"/><circle cx="1021.3" cy="396.7" r="8.1"/><circle cx="1041.0" cy="396.8" r="6.8"/><circle cx="1058.1" cy="395.6" r="7.6"/><circle cx="1076.1" cy="396.1" r="7.5"/><circle cx="1093.5" cy="396.7" r="7.3"/><circle cx="1112.4" cy="396.0" r="7.0"/><circle cx="1129.0" cy="397.5" r="7.4"/><circle cx="1148.0" cy="395.1" r="7.9"/><circle cx="1165.2" cy="396.5" r="7.8"/><circle cx="1182.1" cy="395.5" r="7.7"/><circle cx="1199.7" cy="395.6" r="7.4"/><circle cx="818.7" cy="409.9" r="7.6"/><circle cx="836.7" cy="410.4" r="7.3"/><circle cx="854.4" cy="410.4" r="7.7"/><circle cx="872.6" cy="409.6" r="7.6"/><circle cx="890.4" cy="409.5" r="7.5"/><circle cx="907.5" cy="410.5" r="7.5"/><circle cx="923.8" cy="411.0" r="7.2"/><circle cx="943.3" cy="410.9" r="7.5"/><circle cx="961.4" cy="411.3" r="7.2"/><circle cx="978.0" cy="410.2" r="7.7"/><circle cx="997.3" cy="412.8" r="7.8"/><circle cx="1013.1" cy="411.7" r="7.0"/><circle cx="1030.3" cy="409.9" r="7.6"/><circle cx="1047.8" cy="411.4" r="7.4"/><circle cx="1068.9" cy="410.9" r="7.3"/><circle cx="1083.9" cy="410.1" r="7.5"/><circle cx="1101.4" cy="408.3" r="7.2"/><circle cx="1120.4" cy="410.6" r="7.3"/><circle cx="1137.5" cy="409.3" r="8.0"/><circle cx="1156.9" cy="411.2" r="7.2"/><circle cx="1173.2" cy="410.6" r="7.7"/><circle cx="1191.8" cy="410.8" r="7.7"/><circle cx="1208.9" cy="410.0" r="7.3"/><circle cx="808.9" cy="428.0" r="8.3"/><circle cx="825.8" cy="425.4" r="7.4"/><circle cx="842.7" cy="425.6" r="7.9"/><circle cx="861.7" cy="425.7" r="7.8"/><circle cx="882.0" cy="426.0" r="7.4"/><circle cx="898.3" cy="427.1" r="6.7"/><circle cx="916.1" cy="425.8" r="7.5"/><circle cx="934.2" cy="423.9" r="7.8"/><circle cx="951.5" cy="425.9" r="7.6"/><circle cx="969.7" cy="428.3" r="7.7"/><circle cx="987.9" cy="426.5" r="7.7"/><circle cx="1004.0" cy="427.0" r="7.5"/><circle cx="1023.5" cy="427.1" r="6.9"/><circle cx="1040.9" cy="427.0" r="7.8"/><circle cx="1056.3" cy="426.6" r="6.9"/><circle cx="1075.3" cy="426.6" r="7.6"/><circle cx="1093.9" cy="425.9" r="7.2"/><circle cx="1112.4" cy="427.0" r="7.5"/><circle cx="1127.7" cy="424.0" r="6.8"/><circle cx="1146.7" cy="427.0" r="7.2"/><circle cx="1164.5" cy="426.0" r="7.3"/><circle cx="1182.3" cy="425.4" r="7.1"/><circle cx="1200.4" cy="426.2" r="7.2"/></g>
<path d="M827.9,336.3h0M971.7,340.0h0M824.4,383.8h0M859.8,371.5h0M1109.9,392.4h0M1074.4,380.2h0M1107.7,375.4h0M1062.7,386.5h0M1145.8,345.0h0M910.5,387.6h0M845.0,343.6h0M830.9,415.9h0M1089.4,372.2h0M831.7,386.7h0M1031.4,367.9h0M1142.1,414.9h0M1039.2,385.3h0M1183.8,395.4h0M1024.4,357.7h0M1025.7,419.1h0M1085.9,411.3h0M1036.0,392.0h0M948.9,332.9h0M1129.1,373.4h0M900.6,388.4h0M1144.4,386.0h0M1160.1,358.7h0M815.2,405.8h0M985.8,401.3h0M950.7,332.6h0M973.4,406.5h0M1188.9,395.4h0M885.9,388.9h0M815.1,358.1h0M1184.8,353.3h0M1045.5,356.4h0M974.0,332.8h0M1177.3,342.0h0M857.7,335.8h0M927.3,397.6h0M1126.3,368.9h0M1154.0,390.3h0M1065.9,334.7h0M971.3,349.6h0M1041.6,378.5h0M1178.1,341.5h0M959.1,369.1h0M946.1,381.7h0M1039.8,405.8h0M1044.0,375.7h0M1055.5,405.2h0M1019.4,413.2h0M916.1,346.7h0M900.3,335.3h0M917.0,398.6h0M819.7,379.5h0M811.3,365.4h0M866.0,356.0h0M1060.4,409.2h0M1078.5,351.9h0M1178.5,388.9h0M862.3,349.7h0M939.2,354.8h0M1141.7,400.6h0M1175.1,418.2h0M968.4,364.8h0M869.8,378.6h0M1093.5,378.6h0M840.5,346.7h0M1072.0,386.3h0" stroke="#a0a0a0" stroke-width="1.8" stroke-linecap="round"/>
</g>
<rect x="979.2" y="171.9" width="35.6" height="35.6" fill="none" stroke="#ff2a00" stroke-width="2.9"/>
<rect x="979.2" y="269.5" width="35.6" height="35.6" fill="none" stroke="#3a78ff" stroke-width="2.9"/>
<rect x="979.2" y="363.1" width="35.6" height="35.6" fill="none" stroke="#129a12" stroke-width="2.9"/>
<text x="1186" y="223.8" font-size="21.3" fill="#ff1a1a" text-anchor="end">PP7</text>
<text x="1187" y="320" font-size="21.3" fill="#3a72f5" text-anchor="end">MS2</text>
<text x="1187" y="410" font-size="21.3" fill="#129a12" text-anchor="end">parS</text>
<text x="809.5" y="347" font-size="20.5" fill="#fff">5 µm</text>
<rect x="818.5" y="359.6" width="27.3" height="3" fill="#fff"/>
<path d="M805,134.8 L947.5,77 M1023.5,77 L1194,134.8" stroke="#3a78ff" stroke-width="3.2" stroke-dasharray="9 5" fill="none"/>
<text x="-1.2" y="460.2" font-size="24.5" font-weight="bold" fill="#000" stroke="#000" stroke-width="0.5">c</text>
<defs><filter id="speck" x="0" y="0" width="1" height="1" color-interpolation-filters="sRGB"><feTurbulence type="fractalNoise" baseFrequency="1.25" numOctaves="2" seed="9" result="t"/><feColorMatrix in="t" type="matrix" values="2.4 0 0 0 -0.7  0 2.6 0 0 -0.8  0 0 0.6 0 0.2  0 0 0 0 1" result="n"/><feComposite in="SourceGraphic" in2="n" operator="arithmetic" k1="0" k2="1" k3="0.5" k4="-0.25"/></filter><radialGradient id="nuc"><stop offset="0" stop-color="#1e0a6a" stop-opacity="0.66"/><stop offset="0.62" stop-color="#1e0a6a" stop-opacity="0.56"/><stop offset="1" stop-color="#1e0a6a" stop-opacity="0"/></radialGradient><radialGradient id="gsp"><stop offset="0" stop-color="#6aff6a"/><stop offset="0.5" stop-color="#2ae02a"/><stop offset="1" stop-color="#10a010" stop-opacity="0"/></radialGradient><radialGradient id="bsp"><stop offset="0" stop-color="#4a4aff"/><stop offset="0.55" stop-color="#3030f0" stop-opacity="0.9"/><stop offset="1" stop-color="#2020c0" stop-opacity="0"/></radialGradient><radialGradient id="wsp"><stop offset="0" stop-color="#ffffff"/><stop offset="0.4" stop-color="#c0ffe0"/><stop offset="1" stop-color="#40c080" stop-opacity="0"/></radialGradient><radialGradient id="msp"><stop offset="0" stop-color="#ff40ff"/><stop offset="0.5" stop-color="#e020c0" stop-opacity="0.9"/><stop offset="1" stop-color="#a01090" stop-opacity="0"/></radialGradient></defs>
<clipPath id="fc0"><rect x="35.00" y="467.0" width="143.5" height="143.3"/></clipPath>
<g clip-path="url(#fc0)"><g filter="url(#speck)">
<rect x="35.00" y="467.0" width="143.5" height="143.3" fill="#46203c"/>
</g>
<ellipse cx="85" cy="503" rx="60" ry="42" fill="url(#nuc)"/>
<ellipse cx="120" cy="576" rx="57" ry="44" fill="url(#nuc)"/>
<circle cx="105" cy="494" r="6" fill="url(#bsp)"/>
<circle cx="102.5" cy="481" r="4.2" fill="url(#gsp)"/>
<circle cx="126" cy="576" r="7" fill="url(#bsp)"/>
<circle cx="124" cy="577.5" r="5" fill="url(#msp)"/>
<circle cx="122.5" cy="570" r="4" fill="url(#wsp)"/>
</g>
<text x="174.5" y="485.8" font-size="21.3" fill="#fff" text-anchor="end">0:00</text>
<clipPath id="fc1"><rect x="180.29" y="467.0" width="143.5" height="143.3"/></clipPath>
<g clip-path="url(#fc1)"><g filter="url(#speck)">
<rect x="180.29" y="467.0" width="143.5" height="143.3" fill="#46203c"/>
</g>
<ellipse cx="230" cy="503" rx="60" ry="42" fill="url(#nuc)"/>
<ellipse cx="275" cy="579" rx="57" ry="44" fill="url(#nuc)"/>
<circle cx="258.5" cy="487.5" r="6" fill="url(#bsp)"/>
<circle cx="247.5" cy="481.5" r="4.2" fill="url(#gsp)"/>
<circle cx="275.5" cy="579" r="7" fill="url(#bsp)"/>
<circle cx="273.5" cy="580.5" r="5" fill="url(#msp)"/>
<circle cx="268.5" cy="579" r="4" fill="url(#wsp)"/>
</g>
<text x="319.8" y="485.8" font-size="21.3" fill="#fff" text-anchor="end">0:30</text>
<clipPath id="fc2"><rect x="325.58" y="467.0" width="143.5" height="143.3"/></clipPath>
<g clip-path="url(#fc2)"><g filter="url(#speck)">
<rect x="325.58" y="467.0" width="143.5" height="143.3" fill="#46203c"/>
</g>
<ellipse cx="375" cy="503" rx="60" ry="42" fill="url(#nuc)"/>
<ellipse cx="415" cy="579" rx="57" ry="44" fill="url(#nuc)"/>
<circle cx="398.5" cy="491" r="6" fill="url(#bsp)"/>
<circle cx="386" cy="481.5" r="4.2" fill="url(#gsp)"/>
<circle cx="414.5" cy="581" r="7" fill="url(#bsp)"/>
<circle cx="412.5" cy="582.5" r="5" fill="url(#msp)"/>
<circle cx="410" cy="578.5" r="4" fill="url(#wsp)"/>
</g>
<text x="465.1" y="485.8" font-size="21.3" fill="#fff" text-anchor="end">1:00</text>
<clipPath id="fc3"><rect x="470.87" y="467.0" width="143.5" height="143.3"/></clipPath>
<g clip-path="url(#fc3)"><g filter="url(#speck)">
<rect x="470.87" y="467.0" width="143.5" height="143.3" fill="#46203c"/>
</g>
<ellipse cx="515" cy="503" rx="60" ry="42" fill="url(#nuc)"/>
<ellipse cx="555" cy="579" rx="57" ry="44" fill="url(#nuc)"/>
<circle cx="540" cy="485" r="6" fill="url(#bsp)"/>
<circle cx="531.5" cy="480" r="4.2" fill="url(#gsp)"/>
<circle cx="557" cy="580" r="7" fill="url(#bsp)"/>
<circle cx="555" cy="581.5" r="5" fill="url(#msp)"/>
<circle cx="552.5" cy="577.5" r="4" fill="url(#wsp)"/>
</g>
<text x="610.4" y="485.8" font-size="21.3" fill="#fff" text-anchor="end">1:30</text>
<clipPath id="fc4"><rect x="616.16" y="467.0" width="143.5" height="143.3"/></clipPath>
<g clip-path="url(#fc4)"><g filter="url(#speck)">
<rect x="616.16" y="467.0" width="143.5" height="143.3" fill="#46203c"/>
</g>
<ellipse cx="660" cy="503" rx="60" ry="42" fill="url(#nuc)"/>
<ellipse cx="695" cy="576" rx="57" ry="44" fill="url(#nuc)"/>
<circle cx="686" cy="494" r="6" fill="url(#bsp)"/>
<circle cx="675" cy="491" r="4.2" fill="url(#gsp)"/>
<circle cx="697" cy="575" r="7" fill="url(#bsp)"/>
<circle cx="695" cy="576.5" r="5" fill="url(#msp)"/>
<circle cx="692.5" cy="571" r="4" fill="url(#wsp)"/>
</g>
<text x="755.7" y="485.8" font-size="21.3" fill="#fff" text-anchor="end">2:00</text>
<clipPath id="fc5"><rect x="761.45" y="467.0" width="143.5" height="143.3"/></clipPath>
<g clip-path="url(#fc5)"><g filter="url(#speck)">
<rect x="761.45" y="467.0" width="143.5" height="143.3" fill="#46203c"/>
</g>
<ellipse cx="805" cy="503" rx="60" ry="42" fill="url(#nuc)"/>
<ellipse cx="835" cy="572" rx="57" ry="44" fill="url(#nuc)"/>
<circle cx="826" cy="481.5" r="6" fill="url(#bsp)"/>
<circle cx="820" cy="488.5" r="4.2" fill="url(#gsp)"/>
<circle cx="833" cy="567.5" r="7" fill="url(#bsp)"/>
<circle cx="831" cy="569.0" r="5" fill="url(#msp)"/>
<circle cx="831" cy="564" r="4" fill="url(#wsp)"/>
</g>
<text x="900.9" y="485.8" font-size="21.3" fill="#fff" text-anchor="end">2:30</text>
<clipPath id="fc6"><rect x="906.74" y="467.0" width="143.5" height="143.3"/></clipPath>
<g clip-path="url(#fc6)"><g filter="url(#speck)">
<rect x="906.74" y="467.0" width="143.5" height="143.3" fill="#46203c"/>
</g>
<ellipse cx="950" cy="503" rx="60" ry="42" fill="url(#nuc)"/>
<ellipse cx="975" cy="572" rx="57" ry="44" fill="url(#nuc)"/>
<circle cx="969" cy="481.5" r="6" fill="url(#bsp)"/>
<circle cx="963" cy="488.5" r="4.2" fill="url(#gsp)"/>
<circle cx="969.5" cy="570" r="7" fill="url(#bsp)"/>
<circle cx="967.5" cy="571.5" r="5" fill="url(#msp)"/>
<circle cx="971" cy="567.5" r="4" fill="url(#wsp)"/>
</g>
<text x="1046.2" y="485.8" font-size="21.3" fill="#fff" text-anchor="end">3:00</text>
<clipPath id="fc7"><rect x="1052.03" y="467.0" width="143.5" height="143.3"/></clipPath>
<g clip-path="url(#fc7)"><g filter="url(#speck)">
<rect x="1052.03" y="467.0" width="143.5" height="143.3" fill="#46203c"/>
</g>
<ellipse cx="1090" cy="503" rx="60" ry="42" fill="url(#nuc)"/>
<ellipse cx="1105" cy="572" rx="57" ry="44" fill="url(#nuc)"/>
<circle cx="1107.5" cy="481.5" r="6" fill="url(#bsp)"/>
<circle cx="1097.5" cy="480" r="4.2" fill="url(#gsp)"/>
<circle cx="1104.5" cy="561" r="7" fill="url(#bsp)"/>
<circle cx="1102.5" cy="562.5" r="5" fill="url(#msp)"/>
<circle cx="1110" cy="564" r="4" fill="url(#wsp)"/>
</g>
<text x="1191.5" y="485.8" font-size="21.3" fill="#fff" text-anchor="end">3:30</text>
<text x="73" y="525" font-size="21.3" fill="#3d6cf5">Red-OFF</text>
<text x="94.5" y="603.3" font-size="21.3" fill="#f0a08c">Red-ON</text>
<text x="1191" y="588.3" font-size="20.5" fill="#fff" text-anchor="end">2 µm</text>
<rect x="1156.3" y="597.6" width="32" height="3.2" fill="#fff"/>
<text x="-1.2" y="658.8" font-size="24.5" font-weight="bold" fill="#000" stroke="#000" stroke-width="0.5">d</text>
<polygon points="90.7,817.6 121.8,818.9 152.9,776.1 184.0,767.6 215.1,737.6 246.2,758.4 277.3,803.4 308.4,749.9 339.5,709.1 370.7,725.6 401.8,714.1 432.9,759.9 464.0,761.4 495.1,767.6 526.2,801.4 557.3,817.6 557.3,858.6 526.2,850.4 495.1,825.9 464.0,810.4 432.9,812.6 401.8,802.1 370.7,812.6 339.5,797.4 308.4,832.1 277.3,865.6 246.2,842.6 215.1,819.6 184.0,855.6 152.9,857.1 121.8,897.4 90.7,903.4" fill="#d9d9fb"/>
<polygon points="90.7,903.4 121.8,905.6 152.9,876.4 184.0,900.4 215.1,877.1 246.2,844.1 277.3,883.6 308.4,830.4 339.5,953.1 370.7,946.4 401.8,983.1 432.9,917.9 464.0,914.6 495.1,920.1 526.2,858.1 557.3,887.1 557.3,965.9 526.2,942.4 495.1,990.4 464.0,979.1 432.9,972.1 401.8,1027.1 370.7,999.1 339.5,993.6 308.4,903.1 277.3,961.4 246.2,926.1 215.1,965.4 184.0,977.1 152.9,963.9 121.8,987.6 90.7,960.9" fill="#ffd8d8" fill-opacity="1"/>
<polyline points="90.7,860.6 121.8,858.1 152.9,816.6 184.0,811.4 215.1,778.4 246.2,800.4 277.3,835.6 308.4,790.1 339.5,752.1 370.7,769.1 401.8,758.4 432.9,786.1 464.0,785.4 495.1,797.4 526.2,825.9 557.3,838.1" fill="none" stroke="#0000ff" stroke-width="3.2" stroke-linejoin="miter"/>
<polyline points="90.7,916.4 121.8,947.1 152.9,920.1 184.0,938.6 215.1,921.1 246.2,884.6 277.3,923.1 308.4,858.6 339.5,973.1 370.7,972.1 401.8,1005.9 432.9,944.4 464.0,946.4 495.1,955.6 526.2,899.4 557.3,927.9" fill="none" stroke="#ff0000" stroke-width="3.2" stroke-linejoin="miter"/>
<path d="M80.5,643.5 V1042.6 H578.4" fill="none" stroke="#000" stroke-width="2"/>
<text x="70" y="750.6" font-size="21.3" text-anchor="end">1.2</text>
<text x="70" y="850.6" font-size="21.3" text-anchor="end">0.8</text>
<text x="70" y="950.6" font-size="21.3" text-anchor="end">0.4</text>
<text x="163.3" y="1068.6" font-size="21.3" text-anchor="middle">50</text>
<text x="267.0" y="1068.6" font-size="21.3" text-anchor="middle">100</text>
<text x="370.7" y="1068.6" font-size="21.3" text-anchor="middle">150</text>
<text x="474.3" y="1068.6" font-size="21.3" text-anchor="middle">200</text>
<path d="M80.5,743.6 H88.8 M80.5,843.6 H88.8 M80.5,943.6 H88.8 M163.3,1042.6 V1034.3 M267.0,1042.6 V1034.3 M370.7,1042.6 V1034.3 M474.3,1042.6 V1034.3 " stroke="#000" stroke-width="2"/>
<text x="328.5" y="1103.6" font-size="21.3" text-anchor="middle">Time (s)</text>
<text transform="translate(20.3,843) rotate(-90)" font-size="21.3" text-anchor="middle">Enhancer–promoter distance (<tspan font-style="italic">µ</tspan>m)</text>
<path d="M130,678 H188" stroke="#0000ff" stroke-width="3.2"/>
<path d="M130,707.5 H188" stroke="#ff0000" stroke-width="3.2"/>
<text x="196.5" y="684.3" font-size="21.3">Red-OFF</text>
<text x="196.5" y="713.8" font-size="21.3">Red-ON</text>
<text x="613.5" y="657.8" font-size="24.5" font-weight="bold" fill="#000" stroke="#000" stroke-width="0.5">e</text>
<polygon points="711.37,864.24 709.32,867.79 705.22,867.79 703.17,864.24 705.22,860.69 709.32,860.69" fill="#f0b428"/>
<circle cx="707.27" cy="864.24" r="1.9" fill="#0000f0"/>
<polygon points="721.34,815.64 719.29,819.19 715.19,819.19 713.14,815.64 715.19,812.09 719.29,812.09" fill="#f0b428"/>
<circle cx="717.24" cy="815.64" r="1.9" fill="#0000f0"/>
<polygon points="731.32,792.24 729.27,795.79 725.17,795.79 723.12,792.24 725.17,788.69 729.27,788.69" fill="#f0b428"/>
<circle cx="727.22" cy="792.24" r="1.9" fill="#0000f0"/>
<polygon points="741.29,775.68 739.24,779.23 735.14,779.23 733.09,775.68 735.14,772.13 739.24,772.13" fill="#f0b428"/>
<circle cx="737.19" cy="775.68" r="1.9" fill="#0000f0"/>
<polygon points="751.26,763.80 749.21,767.35 745.11,767.35 743.06,763.80 745.11,760.25 749.21,760.25" fill="#f0b428"/>
<circle cx="747.16" cy="763.80" r="1.9" fill="#0000f0"/>
<polygon points="761.23,755.88 759.18,759.43 755.08,759.43 753.03,755.88 755.08,752.33 759.18,752.33" fill="#f0b428"/>
<circle cx="757.13" cy="755.88" r="1.9" fill="#0000f0"/>
<polygon points="771.20,747.60 769.15,751.15 765.05,751.15 763.00,747.60 765.05,744.05 769.15,744.05" fill="#f0b428"/>
<circle cx="767.10" cy="747.60" r="1.9" fill="#0000f0"/>
<polygon points="781.18,742.20 779.13,745.75 775.03,745.75 772.98,742.20 775.03,738.65 779.13,738.65" fill="#f0b428"/>
<circle cx="777.08" cy="742.20" r="1.9" fill="#0000f0"/>
<polygon points="791.15,736.80 789.10,740.35 785.00,740.35 782.95,736.80 785.00,733.25 789.10,733.25" fill="#f0b428"/>
<circle cx="787.05" cy="736.80" r="1.9" fill="#0000f0"/>
<polygon points="801.12,733.56 799.07,737.11 794.97,737.11 792.92,733.56 794.97,730.01 799.07,730.01" fill="#f0b428"/>
<circle cx="797.02" cy="733.56" r="1.9" fill="#0000f0"/>
<polygon points="811.09,730.68 809.04,734.23 804.94,734.23 802.89,730.68 804.94,727.13 809.04,727.13" fill="#f0b428"/>
<circle cx="806.99" cy="730.68" r="1.9" fill="#0000f0"/>
<polygon points="821.06,727.08 819.01,730.63 814.91,730.63 812.86,727.08 814.91,723.53 819.01,723.53" fill="#f0b428"/>
<circle cx="816.96" cy="727.08" r="1.9" fill="#0000f0"/>
<polygon points="831.04,723.84 828.99,727.39 824.89,727.39 822.84,723.84 824.89,720.29 828.99,720.29" fill="#f0b428"/>
<circle cx="826.94" cy="723.84" r="1.9" fill="#0000f0"/>
<polygon points="841.01,722.04 838.96,725.59 834.86,725.59 832.81,722.04 834.86,718.49 838.96,718.49" fill="#f0b428"/>
<circle cx="836.91" cy="722.04" r="1.9" fill="#0000f0"/>
<polygon points="850.98,718.80 848.93,722.35 844.83,722.35 842.78,718.80 844.83,715.25 848.93,715.25" fill="#f0b428"/>
<circle cx="846.88" cy="718.80" r="1.9" fill="#0000f0"/>
<polygon points="860.95,717.00 858.90,720.55 854.80,720.55 852.75,717.00 854.80,713.45 858.90,713.45" fill="#f0b428"/>
<circle cx="856.85" cy="717.00" r="1.9" fill="#0000f0"/>
<polygon points="870.92,713.76 868.87,717.31 864.77,717.31 862.72,713.76 864.77,710.21 868.87,710.21" fill="#f0b428"/>
<circle cx="866.82" cy="713.76" r="1.9" fill="#0000f0"/>
<polygon points="880.90,711.96 878.85,715.51 874.75,715.51 872.70,711.96 874.75,708.41 878.85,708.41" fill="#f0b428"/>
<circle cx="876.80" cy="711.96" r="1.9" fill="#0000f0"/>
<polygon points="890.87,708.72 888.82,712.27 884.72,712.27 882.67,708.72 884.72,705.17 888.82,705.17" fill="#f0b428"/>
<circle cx="886.77" cy="708.72" r="1.9" fill="#0000f0"/>
<polygon points="900.84,708.72 898.79,712.27 894.69,712.27 892.64,708.72 894.69,705.17 898.79,705.17" fill="#f0b428"/>
<circle cx="896.74" cy="708.72" r="1.9" fill="#0000f0"/>
<polygon points="910.81,708.72 908.76,712.27 904.66,712.27 902.61,708.72 904.66,705.17 908.76,705.17" fill="#f0b428"/>
<circle cx="906.71" cy="708.72" r="1.9" fill="#0000f0"/>
<polygon points="920.78,707.28 918.73,710.83 914.63,710.83 912.58,707.28 914.63,703.73 918.73,703.73" fill="#f0b428"/>
<circle cx="916.68" cy="707.28" r="1.9" fill="#0000f0"/>
<polygon points="930.76,705.48 928.71,709.03 924.61,709.03 922.56,705.48 924.61,701.93 928.71,701.93" fill="#f0b428"/>
<circle cx="926.66" cy="705.48" r="1.9" fill="#0000f0"/>
<polygon points="940.73,702.60 938.68,706.15 934.58,706.15 932.53,702.60 934.58,699.05 938.68,699.05" fill="#f0b428"/>
<circle cx="936.63" cy="702.60" r="1.9" fill="#0000f0"/>
<polygon points="950.70,702.24 948.65,705.79 944.55,705.79 942.50,702.24 944.55,698.69 948.65,698.69" fill="#f0b428"/>
<circle cx="946.60" cy="702.24" r="1.9" fill="#0000f0"/>
<polygon points="960.67,700.80 958.62,704.35 954.52,704.35 952.47,700.80 954.52,697.25 958.62,697.25" fill="#f0b428"/>
<circle cx="956.57" cy="700.80" r="1.9" fill="#0000f0"/>
<polygon points="970.64,699.00 968.59,702.55 964.49,702.55 962.44,699.00 964.49,695.45 968.59,695.45" fill="#f0b428"/>
<circle cx="966.54" cy="699.00" r="1.9" fill="#0000f0"/>
<polygon points="980.62,699.00 978.57,702.55 974.47,702.55 972.42,699.00 974.47,695.45 978.57,695.45" fill="#f0b428"/>
<circle cx="976.52" cy="699.00" r="1.9" fill="#0000f0"/>
<polygon points="990.59,699.00 988.54,702.55 984.44,702.55 982.39,699.00 984.44,695.45 988.54,695.45" fill="#f0b428"/>
<circle cx="986.49" cy="699.00" r="1.9" fill="#0000f0"/>
<polygon points="1000.56,699.00 998.51,702.55 994.41,702.55 992.36,699.00 994.41,695.45 998.51,695.45" fill="#f0b428"/>
<circle cx="996.46" cy="699.00" r="1.9" fill="#0000f0"/>
<polygon points="1010.53,699.00 1008.48,702.55 1004.38,702.55 1002.33,699.00 1004.38,695.45 1008.48,695.45" fill="#f0b428"/>
<circle cx="1006.43" cy="699.00" r="1.9" fill="#0000f0"/>
<polygon points="1020.50,696.84 1018.45,700.39 1014.35,700.39 1012.30,696.84 1014.35,693.29 1018.45,693.29" fill="#f0b428"/>
<circle cx="1016.40" cy="696.84" r="1.9" fill="#0000f0"/>
<polygon points="1030.48,695.40 1028.43,698.95 1024.33,698.95 1022.28,695.40 1024.33,691.85 1028.43,691.85" fill="#f0b428"/>
<circle cx="1026.38" cy="695.40" r="1.9" fill="#0000f0"/>
<polygon points="1040.45,695.40 1038.40,698.95 1034.30,698.95 1032.25,695.40 1034.30,691.85 1038.40,691.85" fill="#f0b428"/>
<circle cx="1036.35" cy="695.40" r="1.9" fill="#0000f0"/>
<polygon points="1050.42,691.80 1048.37,695.35 1044.27,695.35 1042.22,691.80 1044.27,688.25 1048.37,688.25" fill="#f0b428"/>
<circle cx="1046.32" cy="691.80" r="1.9" fill="#0000f0"/>
<polygon points="1060.39,697.20 1058.34,700.75 1054.24,700.75 1052.19,697.20 1054.24,693.65 1058.34,693.65" fill="#f0b428"/>
<circle cx="1056.29" cy="697.20" r="1.9" fill="#0000f0"/>
<polygon points="1070.36,693.96 1068.31,697.51 1064.21,697.51 1062.16,693.96 1064.21,690.41 1068.31,690.41" fill="#f0b428"/>
<circle cx="1066.26" cy="693.96" r="1.9" fill="#0000f0"/>
<polygon points="1080.34,690.36 1078.29,693.91 1074.19,693.91 1072.14,690.36 1074.19,686.81 1078.29,686.81" fill="#f0b428"/>
<circle cx="1076.24" cy="690.36" r="1.9" fill="#0000f0"/>
<polygon points="1090.31,688.92 1088.26,692.47 1084.16,692.47 1082.11,688.92 1084.16,685.37 1088.26,685.37" fill="#f0b428"/>
<circle cx="1086.21" cy="688.92" r="1.9" fill="#0000f0"/>
<polygon points="1100.28,688.92 1098.23,692.47 1094.13,692.47 1092.08,688.92 1094.13,685.37 1098.23,685.37" fill="#f0b428"/>
<circle cx="1096.18" cy="688.92" r="1.9" fill="#0000f0"/>
<polygon points="1110.25,690.36 1108.20,693.91 1104.10,693.91 1102.05,690.36 1104.10,686.81 1108.20,686.81" fill="#f0b428"/>
<circle cx="1106.15" cy="690.36" r="1.9" fill="#0000f0"/>
<polygon points="1120.22,688.92 1118.17,692.47 1114.07,692.47 1112.02,688.92 1114.07,685.37 1118.17,685.37" fill="#f0b428"/>
<circle cx="1116.12" cy="688.92" r="1.9" fill="#0000f0"/>
<polygon points="1130.20,687.12 1128.15,690.67 1124.05,690.67 1122.00,687.12 1124.05,683.57 1128.15,683.57" fill="#f0b428"/>
<circle cx="1126.10" cy="687.12" r="1.9" fill="#0000f0"/>
<polygon points="1140.17,688.92 1138.12,692.47 1134.02,692.47 1131.97,688.92 1134.02,685.37 1138.12,685.37" fill="#f0b428"/>
<circle cx="1136.07" cy="688.92" r="1.9" fill="#0000f0"/>
<polygon points="1150.14,688.92 1148.09,692.47 1143.99,692.47 1141.94,688.92 1143.99,685.37 1148.09,685.37" fill="#f0b428"/>
<circle cx="1146.04" cy="688.92" r="1.9" fill="#0000f0"/>
<polygon points="1160.11,692.16 1158.06,695.71 1153.96,695.71 1151.91,692.16 1153.96,688.61 1158.06,688.61" fill="#f0b428"/>
<circle cx="1156.01" cy="692.16" r="1.9" fill="#0000f0"/>
<polygon points="1170.08,687.12 1168.03,690.67 1163.93,690.67 1161.88,687.12 1163.93,683.57 1168.03,683.57" fill="#f0b428"/>
<circle cx="1165.98" cy="687.12" r="1.9" fill="#0000f0"/>
<polygon points="1180.06,685.68 1178.01,689.23 1173.91,689.23 1171.86,685.68 1173.91,682.13 1178.01,682.13" fill="#f0b428"/>
<circle cx="1175.96" cy="685.68" r="1.9" fill="#0000f0"/>
<polygon points="1190.03,683.52 1187.98,687.07 1183.88,687.07 1181.83,683.52 1183.88,679.97 1187.98,679.97" fill="#f0b428"/>
<circle cx="1185.93" cy="683.52" r="1.9" fill="#0000f0"/>
<polygon points="1200.00,685.68 1197.95,689.23 1193.85,689.23 1191.80,685.68 1193.85,682.13 1197.95,682.13" fill="#f0b428"/>
<circle cx="1195.90" cy="685.68" r="1.9" fill="#0000f0"/>
<polygon points="711.57,890.88 709.42,894.60 705.12,894.60 702.97,890.88 705.12,887.16 709.42,887.16" fill="#0070c0"/>
<polygon points="721.54,845.88 719.39,849.60 715.09,849.60 712.94,845.88 715.09,842.16 719.39,842.16" fill="#0070c0"/>
<polygon points="731.52,822.48 729.37,826.20 725.07,826.20 722.92,822.48 725.07,818.76 729.37,818.76" fill="#0070c0"/>
<polygon points="741.49,806.28 739.34,810.00 735.04,810.00 732.89,806.28 735.04,802.56 739.34,802.56" fill="#0070c0"/>
<polygon points="751.46,794.04 749.31,797.76 745.01,797.76 742.86,794.04 745.01,790.32 749.31,790.32" fill="#0070c0"/>
<polygon points="761.43,785.76 759.28,789.48 754.98,789.48 752.83,785.76 754.98,782.04 759.28,782.04" fill="#0070c0"/>
<polygon points="771.40,778.56 769.25,782.28 764.95,782.28 762.80,778.56 764.95,774.84 769.25,774.84" fill="#0070c0"/>
<polygon points="781.38,772.44 779.23,776.16 774.93,776.16 772.78,772.44 774.93,768.72 779.23,768.72" fill="#0070c0"/>
<polygon points="791.35,768.84 789.20,772.56 784.90,772.56 782.75,768.84 784.90,765.12 789.20,765.12" fill="#0070c0"/>
<polygon points="801.32,763.44 799.17,767.16 794.87,767.16 792.72,763.44 794.87,759.72 799.17,759.72" fill="#0070c0"/>
<polygon points="811.29,760.20 809.14,763.92 804.84,763.92 802.69,760.20 804.84,756.48 809.14,756.48" fill="#0070c0"/>
<polygon points="821.26,756.96 819.11,760.68 814.81,760.68 812.66,756.96 814.81,753.24 819.11,753.24" fill="#0070c0"/>
<polygon points="831.24,753.36 829.09,757.08 824.79,757.08 822.64,753.36 824.79,749.64 829.09,749.64" fill="#0070c0"/>
<polygon points="841.21,750.12 839.06,753.84 834.76,753.84 832.61,750.12 834.76,746.40 839.06,746.40" fill="#0070c0"/>
<polygon points="851.18,748.32 849.03,752.04 844.73,752.04 842.58,748.32 844.73,744.60 849.03,744.60" fill="#0070c0"/>
<polygon points="861.15,745.80 859.00,749.52 854.70,749.52 852.55,745.80 854.70,742.08 859.00,742.08" fill="#0070c0"/>
<polygon points="871.12,742.20 868.97,745.92 864.67,745.92 862.52,742.20 864.67,738.48 868.97,738.48" fill="#0070c0"/>
<polygon points="881.10,742.20 878.95,745.92 874.65,745.92 872.50,742.20 874.65,738.48 878.95,738.48" fill="#0070c0"/>
<polygon points="891.07,738.96 888.92,742.68 884.62,742.68 882.47,738.96 884.62,735.24 888.92,735.24" fill="#0070c0"/>
<polygon points="901.04,738.96 898.89,742.68 894.59,742.68 892.44,738.96 894.59,735.24 898.89,735.24" fill="#0070c0"/>
<polygon points="911.01,736.80 908.86,740.52 904.56,740.52 902.41,736.80 904.56,733.08 908.86,733.08" fill="#0070c0"/>
<polygon points="920.98,736.44 918.83,740.16 914.53,740.16 912.38,736.44 914.53,732.72 918.83,732.72" fill="#0070c0"/>
<polygon points="930.96,735.36 928.81,739.08 924.51,739.08 922.36,735.36 924.51,731.64 928.81,731.64" fill="#0070c0"/>
<polygon points="940.93,735.36 938.78,739.08 934.48,739.08 932.33,735.36 934.48,731.64 938.78,731.64" fill="#0070c0"/>
<polygon points="950.90,735.36 948.75,739.08 944.45,739.08 942.30,735.36 944.45,731.64 948.75,731.64" fill="#0070c0"/>
<polygon points="960.87,733.56 958.72,737.28 954.42,737.28 952.27,733.56 954.42,729.84 958.72,729.84" fill="#0070c0"/>
<polygon points="970.84,732.12 968.69,735.84 964.39,735.84 962.24,732.12 964.39,728.40 968.69,728.40" fill="#0070c0"/>
<polygon points="980.82,729.96 978.67,733.68 974.37,733.68 972.22,729.96 974.37,726.24 978.67,726.24" fill="#0070c0"/>
<polygon points="990.79,729.96 988.64,733.68 984.34,733.68 982.19,729.96 984.34,726.24 988.64,726.24" fill="#0070c0"/>
<polygon points="1000.76,728.88 998.61,732.60 994.31,732.60 992.16,728.88 994.31,725.16 998.61,725.16" fill="#0070c0"/>
<polygon points="1010.73,728.88 1008.58,732.60 1004.28,732.60 1002.13,728.88 1004.28,725.16 1008.58,725.16" fill="#0070c0"/>
<polygon points="1020.70,727.08 1018.55,730.80 1014.25,730.80 1012.10,727.08 1014.25,723.36 1018.55,723.36" fill="#0070c0"/>
<polygon points="1030.68,725.28 1028.53,729.00 1024.23,729.00 1022.08,725.28 1024.23,721.56 1028.53,721.56" fill="#0070c0"/>
<polygon points="1040.65,723.48 1038.50,727.20 1034.20,727.20 1032.05,723.48 1034.20,719.76 1038.50,719.76" fill="#0070c0"/>
<polygon points="1050.62,725.28 1048.47,729.00 1044.17,729.00 1042.02,725.28 1044.17,721.56 1048.47,721.56" fill="#0070c0"/>
<polygon points="1060.59,725.64 1058.44,729.36 1054.14,729.36 1051.99,725.64 1054.14,721.92 1058.44,721.92" fill="#0070c0"/>
<polygon points="1070.56,723.48 1068.41,727.20 1064.11,727.20 1061.96,723.48 1064.11,719.76 1068.41,719.76" fill="#0070c0"/>
<polygon points="1080.54,723.48 1078.39,727.20 1074.09,727.20 1071.94,723.48 1074.09,719.76 1078.39,719.76" fill="#0070c0"/>
<polygon points="1090.51,723.48 1088.36,727.20 1084.06,727.20 1081.91,723.48 1084.06,719.76 1088.36,719.76" fill="#0070c0"/>
<polygon points="1100.48,722.40 1098.33,726.12 1094.03,726.12 1091.88,722.40 1094.03,718.68 1098.33,718.68" fill="#0070c0"/>
<polygon points="1110.45,722.40 1108.30,726.12 1104.00,726.12 1101.85,722.40 1104.00,718.68 1108.30,718.68" fill="#0070c0"/>
<polygon points="1120.42,722.40 1118.27,726.12 1113.97,726.12 1111.82,722.40 1113.97,718.68 1118.27,718.68" fill="#0070c0"/>
<polygon points="1130.40,722.40 1128.25,726.12 1123.95,726.12 1121.80,722.40 1123.95,718.68 1128.25,718.68" fill="#0070c0"/>
<polygon points="1140.37,722.40 1138.22,726.12 1133.92,726.12 1131.77,722.40 1133.92,718.68 1138.22,718.68" fill="#0070c0"/>
<polygon points="1150.34,722.40 1148.19,726.12 1143.89,726.12 1141.74,722.40 1143.89,718.68 1148.19,718.68" fill="#0070c0"/>
<polygon points="1160.31,720.60 1158.16,724.32 1153.86,724.32 1151.71,720.60 1153.86,716.88 1158.16,716.88" fill="#0070c0"/>
<polygon points="1170.28,720.60 1168.13,724.32 1163.83,724.32 1161.68,720.60 1163.83,716.88 1168.13,716.88" fill="#0070c0"/>
<polygon points="1180.26,718.80 1178.11,722.52 1173.81,722.52 1171.66,718.80 1173.81,715.08 1178.11,715.08" fill="#0070c0"/>
<polygon points="1190.23,718.80 1188.08,722.52 1183.78,722.52 1181.63,718.80 1183.78,715.08 1188.08,715.08" fill="#0070c0"/>
<polygon points="1200.20,720.60 1198.05,724.32 1193.75,724.32 1191.60,720.60 1193.75,716.88 1198.05,716.88" fill="#0070c0"/>
<polygon points="711.37,1005.03 709.32,1008.58 705.22,1008.58 703.17,1005.03 705.22,1001.48 709.32,1001.48" fill="#f0320f"/>
<polygon points="721.34,993.67 719.29,997.22 715.19,997.22 713.14,993.67 715.19,990.12 719.29,990.12" fill="#f0320f"/>
<polygon points="731.32,988.62 729.27,992.17 725.17,992.17 723.12,988.62 725.17,985.07 729.27,985.07" fill="#f0320f"/>
<polygon points="741.29,986.09 739.24,989.64 735.14,989.64 733.09,986.09 735.14,982.54 739.24,982.54" fill="#f0320f"/>
<polygon points="751.26,985.25 749.21,988.80 745.11,988.80 743.06,985.25 745.11,981.70 749.21,981.70" fill="#f0320f"/>
<polygon points="761.23,983.15 759.18,986.70 755.08,986.70 753.03,983.15 755.08,979.60 759.18,979.60" fill="#f0320f"/>
<polygon points="771.20,981.89 769.15,985.44 765.05,985.44 763.00,981.89 765.05,978.33 769.15,978.33" fill="#f0320f"/>
<polygon points="781.18,981.89 779.13,985.44 775.03,985.44 772.98,981.89 775.03,978.33 779.13,978.33" fill="#f0320f"/>
<polygon points="791.15,981.89 789.10,985.44 785.00,985.44 782.95,981.89 785.00,978.33 789.10,978.33" fill="#f0320f"/>
<polygon points="801.12,981.89 799.07,985.44 794.97,985.44 792.92,981.89 794.97,978.33 799.07,978.33" fill="#f0320f"/>
<polygon points="811.09,979.78 809.04,983.33 804.94,983.33 802.89,979.78 804.94,976.23 809.04,976.23" fill="#f0320f"/>
<polygon points="821.06,979.78 819.01,983.33 814.91,983.33 812.86,979.78 814.91,976.23 819.01,976.23" fill="#f0320f"/>
<polygon points="831.04,979.78 828.99,983.33 824.89,983.33 822.84,979.78 824.89,976.23 828.99,976.23" fill="#f0320f"/>
<polygon points="841.01,978.52 838.96,982.07 834.86,982.07 832.81,978.52 834.86,974.97 838.96,974.97" fill="#f0320f"/>
<polygon points="850.98,978.52 848.93,982.07 844.83,982.07 842.78,978.52 844.83,974.97 848.93,974.97" fill="#f0320f"/>
<polygon points="860.95,979.78 858.90,983.33 854.80,983.33 852.75,979.78 854.80,976.23 858.90,976.23" fill="#f0320f"/>
<polygon points="870.92,978.52 868.87,982.07 864.77,982.07 862.72,978.52 864.77,974.97 868.87,974.97" fill="#f0320f"/>
<polygon points="880.90,978.52 878.85,982.07 874.75,982.07 872.70,978.52 874.75,974.97 878.85,974.97" fill="#f0320f"/>
<polygon points="890.87,978.52 888.82,982.07 884.72,982.07 882.67,978.52 884.72,974.97 888.82,974.97" fill="#f0320f"/>
<polygon points="900.84,978.52 898.79,982.07 894.69,982.07 892.64,978.52 894.69,974.97 898.79,974.97" fill="#f0320f"/>
<polygon points="910.81,976.84 908.76,980.39 904.66,980.39 902.61,976.84 904.66,973.28 908.76,973.28" fill="#f0320f"/>
<polygon points="920.78,978.52 918.73,982.07 914.63,982.07 912.58,978.52 914.63,974.97 918.73,974.97" fill="#f0320f"/>
<polygon points="930.76,978.52 928.71,982.07 924.61,982.07 922.56,978.52 924.61,974.97 928.71,974.97" fill="#f0320f"/>
<polygon points="940.73,978.52 938.68,982.07 934.58,982.07 932.53,978.52 934.58,974.97 938.68,974.97" fill="#f0320f"/>
<polygon points="950.70,978.52 948.65,982.07 944.55,982.07 942.50,978.52 944.55,974.97 948.65,974.97" fill="#f0320f"/>
<polygon points="960.67,975.57 958.62,979.12 954.52,979.12 952.47,975.57 954.52,972.02 958.62,972.02" fill="#f0320f"/>
<polygon points="970.64,975.57 968.59,979.12 964.49,979.12 962.44,975.57 964.49,972.02 968.59,972.02" fill="#f0320f"/>
<polygon points="980.62,975.57 978.57,979.12 974.47,979.12 972.42,975.57 974.47,972.02 978.57,972.02" fill="#f0320f"/>
<polygon points="990.59,975.57 988.54,979.12 984.44,979.12 982.39,975.57 984.44,972.02 988.54,972.02" fill="#f0320f"/>
<polygon points="1000.56,975.57 998.51,979.12 994.41,979.12 992.36,975.57 994.41,972.02 998.51,972.02" fill="#f0320f"/>
<polygon points="1010.53,973.47 1008.48,977.02 1004.38,977.02 1002.33,973.47 1004.38,969.92 1008.48,969.92" fill="#f0320f"/>
<polygon points="1020.50,970.52 1018.45,974.07 1014.35,974.07 1012.30,970.52 1014.35,966.97 1018.45,966.97" fill="#f0320f"/>
<polygon points="1030.48,972.63 1028.43,976.18 1024.33,976.18 1022.28,972.63 1024.33,969.08 1028.43,969.08" fill="#f0320f"/>
<polygon points="1040.45,971.78 1038.40,975.34 1034.30,975.34 1032.25,971.78 1034.30,968.23 1038.40,968.23" fill="#f0320f"/>
<polygon points="1050.42,973.89 1048.37,977.44 1044.27,977.44 1042.22,973.89 1044.27,970.34 1048.37,970.34" fill="#f0320f"/>
<polygon points="1060.39,975.57 1058.34,979.12 1054.24,979.12 1052.19,975.57 1054.24,972.02 1058.34,972.02" fill="#f0320f"/>
<polygon points="1070.36,975.57 1068.31,979.12 1064.21,979.12 1062.16,975.57 1064.21,972.02 1068.31,972.02" fill="#f0320f"/>
<polygon points="1080.34,971.36 1078.29,974.91 1074.19,974.91 1072.14,971.36 1074.19,967.81 1078.29,967.81" fill="#f0320f"/>
<polygon points="1090.31,975.57 1088.26,979.12 1084.16,979.12 1082.11,975.57 1084.16,972.02 1088.26,972.02" fill="#f0320f"/>
<polygon points="1100.28,975.57 1098.23,979.12 1094.13,979.12 1092.08,975.57 1094.13,972.02 1098.23,972.02" fill="#f0320f"/>
<polygon points="1110.25,976.84 1108.20,980.39 1104.10,980.39 1102.05,976.84 1104.10,973.28 1108.20,973.28" fill="#f0320f"/>
<polygon points="1120.22,976.84 1118.17,980.39 1114.07,980.39 1112.02,976.84 1114.07,973.28 1118.17,973.28" fill="#f0320f"/>
<polygon points="1130.20,978.94 1128.15,982.49 1124.05,982.49 1122.00,978.94 1124.05,975.39 1128.15,975.39" fill="#f0320f"/>
<polygon points="1140.17,974.73 1138.12,978.28 1134.02,978.28 1131.97,974.73 1134.02,971.18 1138.12,971.18" fill="#f0320f"/>
<polygon points="1150.14,976.84 1148.09,980.39 1143.99,980.39 1141.94,976.84 1143.99,973.28 1148.09,973.28" fill="#f0320f"/>
<polygon points="1160.11,976.84 1158.06,980.39 1153.96,980.39 1151.91,976.84 1153.96,973.28 1158.06,973.28" fill="#f0320f"/>
<polygon points="1170.08,976.84 1168.03,980.39 1163.93,980.39 1161.88,976.84 1163.93,973.28 1168.03,973.28" fill="#f0320f"/>
<polygon points="1180.06,975.57 1178.01,979.12 1173.91,979.12 1171.86,975.57 1173.91,972.02 1178.01,972.02" fill="#f0320f"/>
<polygon points="1190.03,979.78 1187.98,983.33 1183.88,983.33 1181.83,979.78 1183.88,976.23 1187.98,976.23" fill="#f0320f"/>
<polygon points="1200.00,979.78 1197.95,983.33 1193.85,983.33 1191.80,979.78 1193.85,976.23 1197.95,976.23" fill="#f0320f"/>
<path d="M697.3,643.5 V1042.8 H1200" fill="none" stroke="#000" stroke-width="2"/>
<text x="686" y="724.0" font-size="21.3" text-anchor="end">1</text>
<text x="686" y="796.0" font-size="21.3" text-anchor="end">0.8</text>
<text x="686" y="868.0" font-size="21.3" text-anchor="end">0.6</text>
<text x="686" y="940.0" font-size="21.3" text-anchor="end">0.4</text>
<text x="686" y="1012.0" font-size="21.3" text-anchor="end">0.2</text>
<text x="697.3" y="1071" font-size="21.3" text-anchor="middle">0</text>
<text x="830.3" y="1071" font-size="21.3" text-anchor="middle">400</text>
<text x="963.2" y="1071" font-size="21.3" text-anchor="middle">800</text>
<text x="1096.2" y="1071" font-size="21.3" text-anchor="middle">1,200</text>
<path d="M697.3,717.0 H706.5 M697.3,789.0 H706.5 M697.3,861.0 H706.5 M697.3,933.0 H706.5 M697.3,1005.0 H706.5 M830.3,1042.8 V1034 M963.2,1042.8 V1034 M1096.2,1042.8 V1034 " stroke="#000" stroke-width="2"/>
<text x="946" y="1102.6" font-size="21.3" text-anchor="middle">Δ<tspan font-style="italic">t</tspan> (s)</text>
<text transform="translate(636,843) rotate(-90)" font-size="21.3" text-anchor="middle">3D MSD (<tspan font-style="italic">µ</tspan>m<tspan font-size="14" dy="-8">2</tspan><tspan dy="8">)</tspan></text>
<circle cx="717.5" cy="665.2" r="6" fill="#0070c0"/>
<text x="731.5" y="671.3" font-size="21.3">Red-OFF</text>
<circle cx="850.8" cy="665.2" r="5.7" fill="#f0320f"/>
<text x="865.3" y="671.3" font-size="21.3">Red-ON</text>
<circle cx="967.5" cy="665.2" r="5.8" fill="#f0b428"/>
<circle cx="967.5" cy="665.2" r="2.9" fill="#0000f0"/>
<text x="984" y="671.3" font-size="21.3"><tspan font-style="italic">λ</tspan> control</text>
<path d="M889.5,933.0L828.1,891.7M869.5,934.1L960.1,899.6M828.1,891.7L828.1,799.8M814.3,885.9L904.9,851.4M960.1,899.6L960.1,807.7M966.3,892.7L904.9,851.4M921.0,921.0L859.6,879.7M845.0,917.6L935.6,883.1M859.6,879.7L859.6,787.8M814.3,851.0L904.9,816.5M935.6,883.1L935.6,791.2M966.3,857.8L904.9,816.5M952.5,909.0L891.1,867.7M820.5,901.1L911.1,866.6M891.1,867.7L891.1,775.8M814.3,816.1L904.9,781.6M911.1,866.6L911.1,774.7M966.3,822.9L904.9,781.6" stroke="#a8a8a8" stroke-width="1.3" stroke-dasharray="1.3 3.2" fill="none"/>
<path d="M814.3,805.1L814.3,896.9L875.7,938.3L966.3,903.7" stroke="#222" stroke-width="2" fill="none"/>
<path d="M814.3,885.9l-3,0M869.5,934.1l-2,2.5M889.5,933.0l2,2.5M814.3,851.0l-3,0M845.0,917.6l-2,2.5M921.0,921.0l2,2.5M814.3,816.1l-3,0M820.5,901.1l-2,2.5M952.5,909.0l2,2.5" stroke="#222" stroke-width="1.6"/>
<text x="807.3" y="820.6" font-size="19.5" text-anchor="end">1</text>
<text x="807.3" y="855.5" font-size="19.5" text-anchor="end">0</text>
<text x="807.3" y="890.4" font-size="19.5" text-anchor="end">−1</text>
<text x="806.0" y="918.1" font-size="19.5" text-anchor="middle">1</text>
<text x="831.0" y="934.0" font-size="19.5" text-anchor="middle">0</text>
<text x="848.0" y="950.1" font-size="19.5" text-anchor="middle">−1</text>
<text x="905.5" y="952.0" font-size="19.5" text-anchor="middle">−1</text>
<text x="933.0" y="940.0" font-size="19.5" text-anchor="middle">0</text>
<text x="964.0" y="927.0" font-size="19.5" text-anchor="middle">1</text>
<text transform="translate(771.5,851.5) rotate(-90)" font-size="19.5" text-anchor="middle"><tspan font-style="italic">dz</tspan> (<tspan font-style="italic">µ</tspan>m)</text>
<text transform="translate(807.0,957.0) rotate(36)" font-size="19.5" text-anchor="middle"><tspan font-style="italic">dy</tspan> (<tspan font-style="italic">µ</tspan>m)</text>
<text transform="translate(949.0,964.0) rotate(-21)" font-size="19.5" text-anchor="middle"><tspan font-style="italic">dx</tspan> (<tspan font-style="italic">µ</tspan>m)</text>
<path d="M879.2,904.7L879.2,893.9L855.8,860.9L873.4,866.8L877.4,854.2L872.5,860.0L872.0,837.1L849.9,828.5L869.8,839.8L853.5,842.0L865.2,825.3L875.2,835.2L854.4,854.6L867.1,847.9L886.4,819.9L897.7,821.7L890.5,833.4L892.3,852.4L877.9,865.0L879.2,893.0L886.9,889.4L912.1,879.4L908.5,860.5L899.5,853.3L913.0,824.4L921.2,826.7L910.3,828.0L902.2,837.1L919.4,844.3L906.7,837.1L896.4,864.1L882.4,882.1L897.7,838.9L890.5,864.1L917.5,873.1L903.1,847.9L887.8,887.5L880.6,853.3L902.2,831.6L894.1,873.1L912.1,864.1L897.7,824.4L883.3,846.1L908.5,874.9L886.9,828.0L877.9,889.4L890.5,883.9L903.1,868.6L882.4,873.1L895.9,860.5L878.8,885.7" stroke="#0a70c0" stroke-width="2.6" fill="none" stroke-linejoin="miter" stroke-miterlimit="3"/>
<path d="M1103.8,907.7L1042.4,866.4M1083.8,908.8L1174.4,874.3M1042.4,866.4L1042.4,774.5M1028.6,860.6L1119.2,826.1M1174.4,874.3L1174.4,782.4M1180.6,867.4L1119.2,826.1M1135.3,895.7L1073.9,854.4M1059.3,892.3L1149.9,857.8M1073.9,854.4L1073.9,762.5M1028.6,825.7L1119.2,791.2M1149.9,857.8L1149.9,765.9M1180.6,832.5L1119.2,791.2M1166.8,883.7L1105.4,842.4M1034.8,875.8L1125.4,841.3M1105.4,842.4L1105.4,750.5M1028.6,790.8L1119.2,756.3M1125.4,841.3L1125.4,749.4M1180.6,797.6L1119.2,756.3" stroke="#a8a8a8" stroke-width="1.3" stroke-dasharray="1.3 3.2" fill="none"/>
<path d="M1028.6,779.8L1028.6,871.6L1090.0,913.0L1180.6,878.4" stroke="#222" stroke-width="2" fill="none"/>
<path d="M1028.6,860.6l-3,0M1083.8,908.8l-2,2.5M1103.8,907.7l2,2.5M1028.6,825.7l-3,0M1059.3,892.3l-2,2.5M1135.3,895.7l2,2.5M1028.6,790.8l-3,0M1034.8,875.8l-2,2.5M1166.8,883.7l2,2.5" stroke="#222" stroke-width="1.6"/>
<text x="1021.6" y="795.3" font-size="19.5" text-anchor="end">1</text>
<text x="1021.6" y="830.2" font-size="19.5" text-anchor="end">0</text>
<text x="1021.6" y="865.1" font-size="19.5" text-anchor="end">−1</text>
<text x="1020.3" y="892.8" font-size="19.5" text-anchor="middle">1</text>
<text x="1045.3" y="908.7" font-size="19.5" text-anchor="middle">0</text>
<text x="1062.3" y="924.8" font-size="19.5" text-anchor="middle">−1</text>
<text x="1119.8" y="926.7" font-size="19.5" text-anchor="middle">−1</text>
<text x="1147.3" y="914.7" font-size="19.5" text-anchor="middle">0</text>
<text x="1178.3" y="901.7" font-size="19.5" text-anchor="middle">1</text>
<text transform="translate(985.8,826.2) rotate(-90)" font-size="19.5" text-anchor="middle"><tspan font-style="italic">dz</tspan> (<tspan font-style="italic">µ</tspan>m)</text>
<text transform="translate(1021.3,931.7) rotate(36)" font-size="19.5" text-anchor="middle"><tspan font-style="italic">dy</tspan> (<tspan font-style="italic">µ</tspan>m)</text>
<text transform="translate(1163.3,938.7) rotate(-21)" font-size="19.5" text-anchor="middle"><tspan font-style="italic">dx</tspan> (<tspan font-style="italic">µ</tspan>m)</text>
<polygon points="1090.8,819.5 1101.0,814.0 1105.5,814.2 1107.0,817.5 1112.5,820.0 1114.5,825.5 1113.0,829.0 1114.5,835.0 1116.0,839.5 1112.0,841.0 1107.0,842.0 1101.5,843.0 1096.5,846.0 1094.5,847.0 1089.5,843.0 1093.0,840.0 1090.5,836.0 1092.0,833.0 1091.0,828.5 1093.0,821.5" fill="#ff0000" stroke="#ff0000" stroke-width="1.5" stroke-linejoin="round"/>
<path d="M1107.0,817.5L1129.5,817.0L1115.0,836.0M1112.5,840.0L1115.5,847.5" stroke="#ff0000" stroke-width="2.3" fill="none" stroke-linejoin="round"/>
<ellipse cx="1095.5" cy="824.0" rx="1.0" ry="2.2" fill="#fff" transform="rotate(15 1095.5 824.0)"/>
<ellipse cx="1106.0" cy="822.5" rx="1.0" ry="2.2" fill="#fff" transform="rotate(15 1106.0 822.5)"/>
<ellipse cx="1108.0" cy="833.5" rx="1.0" ry="2.2" fill="#fff" transform="rotate(15 1108.0 833.5)"/>
</svg>
</body></html>
